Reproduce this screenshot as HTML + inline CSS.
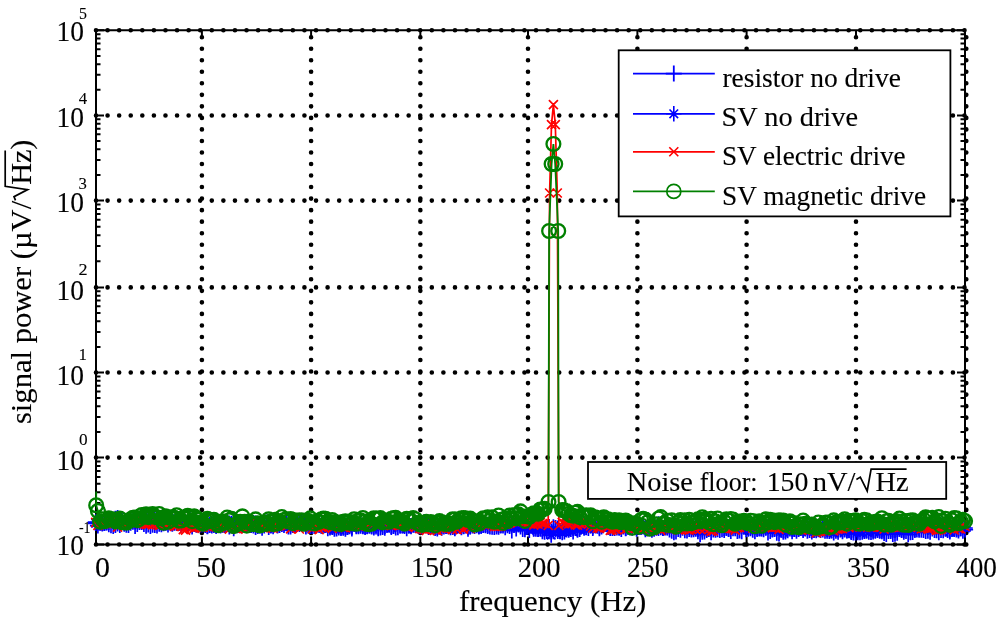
<!DOCTYPE html><html><head><meta charset="utf-8"><style>html,body{margin:0;padding:0;background:#fff;overflow:hidden;}svg{display:block;will-change:transform;}text{font-family:"Liberation Serif",serif;fill:#000;stroke:#000;stroke-width:0.12px;white-space:pre;}text.e{stroke-width:0.1px;}</style></head><body>
<svg width="1000" height="622" viewBox="0 0 1000 622">
<rect width="1000" height="622" fill="#fff"/>
<path d="M96.00 30.30H965.50 M96.00 115.44H965.50 M96.00 200.60H965.50 M96.00 287.40H965.50 M96.00 372.50H965.50 M96.00 457.60H965.50 M96.00 544.50H965.50" stroke="#000" stroke-width="4.6" stroke-linecap="round" stroke-dasharray="0 11.58" fill="none"/>
<path d="M201.90 544.50V32.30 M311.10 544.50V32.30 M420.35 544.50V32.30 M528.00 544.50V32.30 M637.40 544.50V32.30 M746.60 544.50V32.30 M856.00 544.50V32.30 M966.30 544.50V32.30" stroke="#000" stroke-width="4.6" stroke-linecap="round" stroke-dasharray="0 11.53" fill="none"/>
<path d="M201.90 544.50V536.50M201.90 30.30V37.80 M311.10 544.50V536.50M311.10 30.30V37.80 M420.35 544.50V536.50M420.35 30.30V37.80 M528.00 544.50V536.50M528.00 30.30V37.80 M637.40 544.50V536.50M637.40 30.30V37.80 M746.60 544.50V536.50M746.60 30.30V37.80 M856.00 544.50V536.50M856.00 30.30V37.80 M96.00 30.30H104.00M965.00 30.30H957.00 M96.00 89.81H100.50M965.00 89.81H960.50 M96.00 74.82H100.50M965.00 74.82H960.50 M96.00 64.18H100.50M965.00 64.18H960.50 M96.00 55.93H100.50M965.00 55.93H960.50 M96.00 49.19H100.50M965.00 49.19H960.50 M96.00 43.49H100.50M965.00 43.49H960.50 M96.00 38.55H100.50M965.00 38.55H960.50 M96.00 34.20H100.50M965.00 34.20H960.50 M96.00 115.44H104.00M965.00 115.44H957.00 M96.00 174.96H100.50M965.00 174.96H960.50 M96.00 159.97H100.50M965.00 159.97H960.50 M96.00 149.33H100.50M965.00 149.33H960.50 M96.00 141.08H100.50M965.00 141.08H960.50 M96.00 134.33H100.50M965.00 134.33H960.50 M96.00 128.63H100.50M965.00 128.63H960.50 M96.00 123.69H100.50M965.00 123.69H960.50 M96.00 119.34H100.50M965.00 119.34H960.50 M96.00 200.60H104.00M965.00 200.60H957.00 M96.00 261.27H100.50M965.00 261.27H960.50 M96.00 245.99H100.50M965.00 245.99H960.50 M96.00 235.14H100.50M965.00 235.14H960.50 M96.00 226.73H100.50M965.00 226.73H960.50 M96.00 219.86H100.50M965.00 219.86H960.50 M96.00 214.05H100.50M965.00 214.05H960.50 M96.00 209.01H100.50M965.00 209.01H960.50 M96.00 204.57H100.50M965.00 204.57H960.50 M96.00 287.40H104.00M965.00 287.40H957.00 M96.00 346.88H100.50M965.00 346.88H960.50 M96.00 331.90H100.50M965.00 331.90H960.50 M96.00 321.26H100.50M965.00 321.26H960.50 M96.00 313.02H100.50M965.00 313.02H960.50 M96.00 306.28H100.50M965.00 306.28H960.50 M96.00 300.58H100.50M965.00 300.58H960.50 M96.00 295.65H100.50M965.00 295.65H960.50 M96.00 291.29H100.50M965.00 291.29H960.50 M96.00 372.50H104.00M965.00 372.50H957.00 M96.00 431.98H100.50M965.00 431.98H960.50 M96.00 417.00H100.50M965.00 417.00H960.50 M96.00 406.36H100.50M965.00 406.36H960.50 M96.00 398.12H100.50M965.00 398.12H960.50 M96.00 391.38H100.50M965.00 391.38H960.50 M96.00 385.68H100.50M965.00 385.68H960.50 M96.00 380.75H100.50M965.00 380.75H960.50 M96.00 376.39H100.50M965.00 376.39H960.50 M96.00 457.60H104.00M965.00 457.60H957.00 M96.00 518.34H100.50M965.00 518.34H960.50 M96.00 503.04H100.50M965.00 503.04H960.50 M96.00 492.18H100.50M965.00 492.18H960.50 M96.00 483.76H100.50M965.00 483.76H960.50 M96.00 476.88H100.50M965.00 476.88H960.50 M96.00 471.06H100.50M965.00 471.06H960.50 M96.00 466.02H100.50M965.00 466.02H960.50 M96.00 461.58H100.50M965.00 461.58H960.50 M96.00 544.50H104.00M965.00 544.50H957.00" stroke="#000" stroke-width="2.0" fill="none"/>
<path d="M96.00 30.30H965.00V544.50H96.00Z" stroke="#000" stroke-width="2.0" fill="none"/>
<polyline points="95.7,522.2 97.9,525.6 100.1,522.7 102.3,523.5 104.4,523.1 106.6,522.6 108.8,524.2 111.0,525.2 113.2,526.1 115.4,525.1 117.6,523.4 119.8,525.0 122.0,522.1 124.2,523.7 126.3,524.7 128.5,525.0 130.7,522.7 132.9,521.8 135.1,526.1 137.3,523.9 139.5,521.9 141.7,522.1 143.9,523.9 146.1,525.8 148.2,524.5 150.4,525.9 152.6,524.8 154.8,524.9 157.0,525.5 159.2,523.7 161.4,524.2 163.6,523.3 165.8,522.7 168.0,524.4 170.1,522.6 172.3,523.5 174.5,522.4 176.7,523.1 178.9,522.6 181.1,524.8 183.3,523.8 185.5,523.5 187.7,525.7 189.9,519.8 192.1,521.1 194.2,519.1 196.4,522.6 198.6,523.9 200.8,524.6 203.0,524.2 205.2,522.6 207.4,526.1 209.6,524.8 211.8,523.9 213.9,522.6 216.1,524.6 218.3,523.8 220.5,523.8 222.7,524.8 224.9,525.1 227.1,523.7 229.3,526.4 231.5,523.8 233.7,523.1 235.8,525.0 238.0,525.0 240.2,524.9 242.4,524.2 244.6,524.6 246.8,523.8 249.0,522.0 251.2,524.9 253.4,523.0 255.6,523.6 257.8,524.9 259.9,524.2 262.1,527.8 264.3,522.6 266.5,522.5 268.7,523.6 270.9,525.6 273.1,523.7 275.3,521.7 277.5,525.0 279.6,522.7 281.8,523.4 284.0,525.1 286.2,523.3 288.4,523.3 290.6,524.6 292.8,524.0 295.0,524.6 297.2,523.0 299.4,523.9 301.5,522.8 303.7,521.9 305.9,526.4 308.1,525.6 310.3,526.1 312.5,523.6 314.7,524.5 316.9,524.5 319.1,522.9 321.3,525.4 323.4,524.3 325.6,524.9 327.8,523.3 330.0,526.6 332.2,527.1 334.4,526.8 336.6,525.0 338.8,525.3 341.0,527.9 343.2,526.4 345.4,526.9 347.5,526.8 349.7,525.1 351.9,528.4 354.1,524.1 356.3,526.3 358.5,526.2 360.7,524.0 362.9,526.3 365.1,526.9 367.2,526.3 369.4,524.9 371.6,526.4 373.8,527.5 376.0,526.4 378.2,528.3 380.4,527.4 382.6,527.0 384.8,527.8 387.0,525.0 389.1,524.6 391.3,525.9 393.5,526.1 395.7,527.5 397.9,527.3 400.1,525.8 402.3,525.6 404.5,524.9 406.7,524.6 408.9,524.4 411.0,526.3 413.2,524.8 415.4,524.6 417.6,525.4 419.8,524.6 422.0,524.9 424.2,522.2 426.4,525.3 428.6,525.0 430.8,525.7 432.9,526.1 435.1,523.0 437.3,528.4 439.5,526.4 441.7,526.0 443.9,523.2 446.1,526.0 448.3,526.2 450.5,525.2 452.7,525.8 454.8,527.4 457.0,525.5 459.2,524.3 461.4,527.2 463.6,526.3 465.8,525.5 468.0,528.8 470.2,526.5 472.4,525.6 474.6,526.0 476.8,525.2 478.9,525.9 481.1,526.0 483.3,524.9 485.5,525.3 487.7,526.1 489.9,526.4 492.1,526.7 494.3,527.1 496.5,526.4 498.6,526.7 500.8,525.5 503.0,525.4 505.2,527.3 507.4,523.4 509.6,526.0 511.8,530.5 514.0,524.5 516.2,528.4 518.4,524.3 520.5,526.4 522.7,529.0 524.9,529.2 527.1,526.4 529.3,525.7 531.5,525.0 533.7,528.3 535.9,526.5 538.1,528.9 540.3,528.6 542.4,531.3 544.6,531.8 546.8,528.8 549.0,527.0 551.2,531.4 553.4,527.2 555.6,528.0 557.8,528.4 560.0,531.0 562.2,527.7 564.4,527.8 566.5,527.7 568.7,526.0 570.9,526.3 573.1,527.9 575.3,526.0 577.5,528.4 579.7,526.6 581.9,524.5 584.1,526.5 586.2,527.2 588.4,525.0 590.6,525.4 592.8,528.0 595.0,525.3 597.2,525.0 599.4,526.5 601.6,525.0 603.8,523.0 606.0,523.8 608.1,526.9 610.3,527.9 612.5,528.1 614.7,527.9 616.9,525.6 619.1,527.8 621.3,528.9 623.5,526.5 625.7,528.3 627.9,526.8 630.0,527.3 632.2,527.7 634.4,525.2 636.6,528.8 638.8,526.4 641.0,527.0 643.2,526.6 645.4,528.0 647.6,528.3 649.8,527.9 651.9,529.8 654.1,528.8 656.3,527.7 658.5,524.2 660.7,527.2 662.9,528.0 665.1,527.4 667.3,527.4 669.5,529.6 671.7,530.8 673.9,532.3 676.0,531.6 678.2,529.0 680.4,529.8 682.6,527.8 684.8,530.3 687.0,530.4 689.2,529.0 691.4,529.5 693.6,529.3 695.8,528.7 697.9,531.3 700.1,534.3 702.3,531.7 704.5,531.4 706.7,530.1 708.9,529.0 711.1,532.3 713.3,529.4 715.5,529.8 717.6,529.2 719.8,530.0 722.0,529.3 724.2,530.1 726.4,527.7 728.6,528.8 730.8,531.1 733.0,528.3 735.2,528.2 737.4,531.1 739.5,530.4 741.7,531.2 743.9,526.7 746.1,529.2 748.3,527.7 750.5,527.2 752.7,529.7 754.9,531.3 757.1,527.8 759.3,527.7 761.4,528.4 763.6,529.2 765.8,527.7 768.0,532.4 770.2,531.0 772.4,529.4 774.6,528.9 776.8,532.8 779.0,533.4 781.2,529.7 783.3,530.2 785.5,531.5 787.7,528.4 789.9,528.6 792.1,531.3 794.3,529.0 796.5,528.8 798.7,527.5 800.9,528.0 803.1,530.1 805.2,528.4 807.4,527.3 809.6,528.1 811.8,531.5 814.0,530.0 816.2,528.6 818.4,529.3 820.6,529.9 822.8,529.6 825.0,526.8 827.1,529.3 829.3,529.1 831.5,530.6 833.7,527.9 835.9,530.8 838.1,529.2 840.3,527.3 842.5,531.3 844.7,529.6 846.9,530.6 849.0,530.2 851.2,531.9 853.4,532.4 855.6,532.6 857.8,532.2 860.0,529.0 862.2,528.3 864.4,531.0 866.6,530.0 868.8,531.8 871.0,531.9 873.1,529.7 875.3,529.9 877.5,529.9 879.7,530.3 881.9,531.3 884.1,532.9 886.3,534.1 888.5,531.1 890.7,531.1 892.8,534.1 895.0,533.8 897.2,532.7 899.4,528.8 901.6,529.9 903.8,531.7 906.0,530.9 908.2,534.3 910.4,532.2 912.6,532.0 914.8,529.8 916.9,529.4 919.1,529.7 921.3,529.7 923.5,530.1 925.7,531.0 927.9,530.8 930.1,531.8 932.3,528.6 934.5,530.1 936.6,530.3 938.8,532.2 941.0,530.0 943.2,530.3 945.4,528.7 947.6,530.1 949.8,530.4 952.0,529.0 954.2,529.0 956.4,529.5 958.5,530.5 960.7,528.3 962.9,530.8 965.1,529.6" stroke="#00f" stroke-width="1.7" fill="none"/>
<path d="M87.7 522.2h16M95.7 514.2v16M89.9 525.6h16M97.9 517.6v16M92.1 522.7h16M100.1 514.7v16M94.3 523.5h16M102.3 515.5v16M96.4 523.1h16M104.4 515.1v16M98.6 522.6h16M106.6 514.6v16M100.8 524.2h16M108.8 516.2v16M103.0 525.2h16M111.0 517.2v16M105.2 526.1h16M113.2 518.1v16M107.4 525.1h16M115.4 517.1v16M109.6 523.4h16M117.6 515.4v16M111.8 525.0h16M119.8 517.0v16M114.0 522.1h16M122.0 514.1v16M116.2 523.7h16M124.2 515.7v16M118.3 524.7h16M126.3 516.7v16M120.5 525.0h16M128.5 517.0v16M122.7 522.7h16M130.7 514.7v16M124.9 521.8h16M132.9 513.8v16M127.1 526.1h16M135.1 518.1v16M129.3 523.9h16M137.3 515.9v16M131.5 521.9h16M139.5 513.9v16M133.7 522.1h16M141.7 514.1v16M135.9 523.9h16M143.9 515.9v16M138.1 525.8h16M146.1 517.8v16M140.2 524.5h16M148.2 516.5v16M142.4 525.9h16M150.4 517.9v16M144.6 524.8h16M152.6 516.8v16M146.8 524.9h16M154.8 516.9v16M149.0 525.5h16M157.0 517.5v16M151.2 523.7h16M159.2 515.7v16M153.4 524.2h16M161.4 516.2v16M155.6 523.3h16M163.6 515.3v16M157.8 522.7h16M165.8 514.7v16M160.0 524.4h16M168.0 516.4v16M162.1 522.6h16M170.1 514.6v16M164.3 523.5h16M172.3 515.5v16M166.5 522.4h16M174.5 514.4v16M168.7 523.1h16M176.7 515.1v16M170.9 522.6h16M178.9 514.6v16M173.1 524.8h16M181.1 516.8v16M175.3 523.8h16M183.3 515.8v16M177.5 523.5h16M185.5 515.5v16M179.7 525.7h16M187.7 517.7v16M181.9 519.8h16M189.9 511.8v16M184.1 521.1h16M192.1 513.1v16M186.2 519.1h16M194.2 511.1v16M188.4 522.6h16M196.4 514.6v16M190.6 523.9h16M198.6 515.9v16M192.8 524.6h16M200.8 516.6v16M195.0 524.2h16M203.0 516.2v16M197.2 522.6h16M205.2 514.6v16M199.4 526.1h16M207.4 518.1v16M201.6 524.8h16M209.6 516.8v16M203.8 523.9h16M211.8 515.9v16M205.9 522.6h16M213.9 514.6v16M208.1 524.6h16M216.1 516.6v16M210.3 523.8h16M218.3 515.8v16M212.5 523.8h16M220.5 515.8v16M214.7 524.8h16M222.7 516.8v16M216.9 525.1h16M224.9 517.1v16M219.1 523.7h16M227.1 515.7v16M221.3 526.4h16M229.3 518.4v16M223.5 523.8h16M231.5 515.8v16M225.7 523.1h16M233.7 515.1v16M227.8 525.0h16M235.8 517.0v16M230.0 525.0h16M238.0 517.0v16M232.2 524.9h16M240.2 516.9v16M234.4 524.2h16M242.4 516.2v16M236.6 524.6h16M244.6 516.6v16M238.8 523.8h16M246.8 515.8v16M241.0 522.0h16M249.0 514.0v16M243.2 524.9h16M251.2 516.9v16M245.4 523.0h16M253.4 515.0v16M247.6 523.6h16M255.6 515.6v16M249.8 524.9h16M257.8 516.9v16M251.9 524.2h16M259.9 516.2v16M254.1 527.8h16M262.1 519.8v16M256.3 522.6h16M264.3 514.6v16M258.5 522.5h16M266.5 514.5v16M260.7 523.6h16M268.7 515.6v16M262.9 525.6h16M270.9 517.6v16M265.1 523.7h16M273.1 515.7v16M267.3 521.7h16M275.3 513.7v16M269.5 525.0h16M277.5 517.0v16M271.6 522.7h16M279.6 514.7v16M273.8 523.4h16M281.8 515.4v16M276.0 525.1h16M284.0 517.1v16M278.2 523.3h16M286.2 515.3v16M280.4 523.3h16M288.4 515.3v16M282.6 524.6h16M290.6 516.6v16M284.8 524.0h16M292.8 516.0v16M287.0 524.6h16M295.0 516.6v16M289.2 523.0h16M297.2 515.0v16M291.4 523.9h16M299.4 515.9v16M293.5 522.8h16M301.5 514.8v16M295.7 521.9h16M303.7 513.9v16M297.9 526.4h16M305.9 518.4v16M300.1 525.6h16M308.1 517.6v16M302.3 526.1h16M310.3 518.1v16M304.5 523.6h16M312.5 515.6v16M306.7 524.5h16M314.7 516.5v16M308.9 524.5h16M316.9 516.5v16M311.1 522.9h16M319.1 514.9v16M313.3 525.4h16M321.3 517.4v16M315.4 524.3h16M323.4 516.3v16M317.6 524.9h16M325.6 516.9v16M319.8 523.3h16M327.8 515.3v16M322.0 526.6h16M330.0 518.6v16M324.2 527.1h16M332.2 519.1v16M326.4 526.8h16M334.4 518.8v16M328.6 525.0h16M336.6 517.0v16M330.8 525.3h16M338.8 517.3v16M333.0 527.9h16M341.0 519.9v16M335.2 526.4h16M343.2 518.4v16M337.4 526.9h16M345.4 518.9v16M339.5 526.8h16M347.5 518.8v16M341.7 525.1h16M349.7 517.1v16M343.9 528.4h16M351.9 520.4v16M346.1 524.1h16M354.1 516.1v16M348.3 526.3h16M356.3 518.3v16M350.5 526.2h16M358.5 518.2v16M352.7 524.0h16M360.7 516.0v16M354.9 526.3h16M362.9 518.3v16M357.1 526.9h16M365.1 518.9v16M359.2 526.3h16M367.2 518.3v16M361.4 524.9h16M369.4 516.9v16M363.6 526.4h16M371.6 518.4v16M365.8 527.5h16M373.8 519.5v16M368.0 526.4h16M376.0 518.4v16M370.2 528.3h16M378.2 520.3v16M372.4 527.4h16M380.4 519.4v16M374.6 527.0h16M382.6 519.0v16M376.8 527.8h16M384.8 519.8v16M379.0 525.0h16M387.0 517.0v16M381.1 524.6h16M389.1 516.6v16M383.3 525.9h16M391.3 517.9v16M385.5 526.1h16M393.5 518.1v16M387.7 527.5h16M395.7 519.5v16M389.9 527.3h16M397.9 519.3v16M392.1 525.8h16M400.1 517.8v16M394.3 525.6h16M402.3 517.6v16M396.5 524.9h16M404.5 516.9v16M398.7 524.6h16M406.7 516.6v16M400.9 524.4h16M408.9 516.4v16M403.0 526.3h16M411.0 518.3v16M405.2 524.8h16M413.2 516.8v16M407.4 524.6h16M415.4 516.6v16M409.6 525.4h16M417.6 517.4v16M411.8 524.6h16M419.8 516.6v16M414.0 524.9h16M422.0 516.9v16M416.2 522.2h16M424.2 514.2v16M418.4 525.3h16M426.4 517.3v16M420.6 525.0h16M428.6 517.0v16M422.8 525.7h16M430.8 517.7v16M424.9 526.1h16M432.9 518.1v16M427.1 523.0h16M435.1 515.0v16M429.3 528.4h16M437.3 520.4v16M431.5 526.4h16M439.5 518.4v16M433.7 526.0h16M441.7 518.0v16M435.9 523.2h16M443.9 515.2v16M438.1 526.0h16M446.1 518.0v16M440.3 526.2h16M448.3 518.2v16M442.5 525.2h16M450.5 517.2v16M444.7 525.8h16M452.7 517.8v16M446.8 527.4h16M454.8 519.4v16M449.0 525.5h16M457.0 517.5v16M451.2 524.3h16M459.2 516.3v16M453.4 527.2h16M461.4 519.2v16M455.6 526.3h16M463.6 518.3v16M457.8 525.5h16M465.8 517.5v16M460.0 528.8h16M468.0 520.8v16M462.2 526.5h16M470.2 518.5v16M464.4 525.6h16M472.4 517.6v16M466.6 526.0h16M474.6 518.0v16M468.8 525.2h16M476.8 517.2v16M470.9 525.9h16M478.9 517.9v16M473.1 526.0h16M481.1 518.0v16M475.3 524.9h16M483.3 516.9v16M477.5 525.3h16M485.5 517.3v16M479.7 526.1h16M487.7 518.1v16M481.9 526.4h16M489.9 518.4v16M484.1 526.7h16M492.1 518.7v16M486.3 527.1h16M494.3 519.1v16M488.5 526.4h16M496.5 518.4v16M490.6 526.7h16M498.6 518.7v16M492.8 525.5h16M500.8 517.5v16M495.0 525.4h16M503.0 517.4v16M497.2 527.3h16M505.2 519.3v16M499.4 523.4h16M507.4 515.4v16M501.6 526.0h16M509.6 518.0v16M503.8 530.5h16M511.8 522.5v16M506.0 524.5h16M514.0 516.5v16M508.2 528.4h16M516.2 520.4v16M510.4 524.3h16M518.4 516.3v16M512.5 526.4h16M520.5 518.4v16M514.7 529.0h16M522.7 521.0v16M516.9 529.2h16M524.9 521.2v16M519.1 526.4h16M527.1 518.4v16M521.3 525.7h16M529.3 517.7v16M523.5 525.0h16M531.5 517.0v16M525.7 528.3h16M533.7 520.3v16M527.9 526.5h16M535.9 518.5v16M530.1 528.9h16M538.1 520.9v16M532.3 528.6h16M540.3 520.6v16M534.4 531.3h16M542.4 523.3v16M536.6 531.8h16M544.6 523.8v16M538.8 528.8h16M546.8 520.8v16M541.0 527.0h16M549.0 519.0v16M543.2 531.4h16M551.2 523.4v16M545.4 527.2h16M553.4 519.2v16M547.6 528.0h16M555.6 520.0v16M549.8 528.4h16M557.8 520.4v16M552.0 531.0h16M560.0 523.0v16M554.2 527.7h16M562.2 519.7v16M556.4 527.8h16M564.4 519.8v16M558.5 527.7h16M566.5 519.7v16M560.7 526.0h16M568.7 518.0v16M562.9 526.3h16M570.9 518.3v16M565.1 527.9h16M573.1 519.9v16M567.3 526.0h16M575.3 518.0v16M569.5 528.4h16M577.5 520.4v16M571.7 526.6h16M579.7 518.6v16M573.9 524.5h16M581.9 516.5v16M576.1 526.5h16M584.1 518.5v16M578.2 527.2h16M586.2 519.2v16M580.4 525.0h16M588.4 517.0v16M582.6 525.4h16M590.6 517.4v16M584.8 528.0h16M592.8 520.0v16M587.0 525.3h16M595.0 517.3v16M589.2 525.0h16M597.2 517.0v16M591.4 526.5h16M599.4 518.5v16M593.6 525.0h16M601.6 517.0v16M595.8 523.0h16M603.8 515.0v16M598.0 523.8h16M606.0 515.8v16M600.1 526.9h16M608.1 518.9v16M602.3 527.9h16M610.3 519.9v16M604.5 528.1h16M612.5 520.1v16M606.7 527.9h16M614.7 519.9v16M608.9 525.6h16M616.9 517.6v16M611.1 527.8h16M619.1 519.8v16M613.3 528.9h16M621.3 520.9v16M615.5 526.5h16M623.5 518.5v16M617.7 528.3h16M625.7 520.3v16M619.9 526.8h16M627.9 518.8v16M622.0 527.3h16M630.0 519.3v16M624.2 527.7h16M632.2 519.7v16M626.4 525.2h16M634.4 517.2v16M628.6 528.8h16M636.6 520.8v16M630.8 526.4h16M638.8 518.4v16M633.0 527.0h16M641.0 519.0v16M635.2 526.6h16M643.2 518.6v16M637.4 528.0h16M645.4 520.0v16M639.6 528.3h16M647.6 520.3v16M641.8 527.9h16M649.8 519.9v16M643.9 529.8h16M651.9 521.8v16M646.1 528.8h16M654.1 520.8v16M648.3 527.7h16M656.3 519.7v16M650.5 524.2h16M658.5 516.2v16M652.7 527.2h16M660.7 519.2v16M654.9 528.0h16M662.9 520.0v16M657.1 527.4h16M665.1 519.4v16M659.3 527.4h16M667.3 519.4v16M661.5 529.6h16M669.5 521.6v16M663.7 530.8h16M671.7 522.8v16M665.9 532.3h16M673.9 524.3v16M668.0 531.6h16M676.0 523.6v16M670.2 529.0h16M678.2 521.0v16M672.4 529.8h16M680.4 521.8v16M674.6 527.8h16M682.6 519.8v16M676.8 530.3h16M684.8 522.3v16M679.0 530.4h16M687.0 522.4v16M681.2 529.0h16M689.2 521.0v16M683.4 529.5h16M691.4 521.5v16M685.6 529.3h16M693.6 521.3v16M687.8 528.7h16M695.8 520.7v16M689.9 531.3h16M697.9 523.3v16M692.1 534.3h16M700.1 526.3v16M694.3 531.7h16M702.3 523.7v16M696.5 531.4h16M704.5 523.4v16M698.7 530.1h16M706.7 522.1v16M700.9 529.0h16M708.9 521.0v16M703.1 532.3h16M711.1 524.3v16M705.3 529.4h16M713.3 521.4v16M707.5 529.8h16M715.5 521.8v16M709.6 529.2h16M717.6 521.2v16M711.8 530.0h16M719.8 522.0v16M714.0 529.3h16M722.0 521.3v16M716.2 530.1h16M724.2 522.1v16M718.4 527.7h16M726.4 519.7v16M720.6 528.8h16M728.6 520.8v16M722.8 531.1h16M730.8 523.1v16M725.0 528.3h16M733.0 520.3v16M727.2 528.2h16M735.2 520.2v16M729.4 531.1h16M737.4 523.1v16M731.5 530.4h16M739.5 522.4v16M733.7 531.2h16M741.7 523.2v16M735.9 526.7h16M743.9 518.7v16M738.1 529.2h16M746.1 521.2v16M740.3 527.7h16M748.3 519.7v16M742.5 527.2h16M750.5 519.2v16M744.7 529.7h16M752.7 521.7v16M746.9 531.3h16M754.9 523.3v16M749.1 527.8h16M757.1 519.8v16M751.3 527.7h16M759.3 519.7v16M753.4 528.4h16M761.4 520.4v16M755.6 529.2h16M763.6 521.2v16M757.8 527.7h16M765.8 519.7v16M760.0 532.4h16M768.0 524.4v16M762.2 531.0h16M770.2 523.0v16M764.4 529.4h16M772.4 521.4v16M766.6 528.9h16M774.6 520.9v16M768.8 532.8h16M776.8 524.8v16M771.0 533.4h16M779.0 525.4v16M773.2 529.7h16M781.2 521.7v16M775.3 530.2h16M783.3 522.2v16M777.5 531.5h16M785.5 523.5v16M779.7 528.4h16M787.7 520.4v16M781.9 528.6h16M789.9 520.6v16M784.1 531.3h16M792.1 523.3v16M786.3 529.0h16M794.3 521.0v16M788.5 528.8h16M796.5 520.8v16M790.7 527.5h16M798.7 519.5v16M792.9 528.0h16M800.9 520.0v16M795.1 530.1h16M803.1 522.1v16M797.2 528.4h16M805.2 520.4v16M799.4 527.3h16M807.4 519.3v16M801.6 528.1h16M809.6 520.1v16M803.8 531.5h16M811.8 523.5v16M806.0 530.0h16M814.0 522.0v16M808.2 528.6h16M816.2 520.6v16M810.4 529.3h16M818.4 521.3v16M812.6 529.9h16M820.6 521.9v16M814.8 529.6h16M822.8 521.6v16M817.0 526.8h16M825.0 518.8v16M819.1 529.3h16M827.1 521.3v16M821.3 529.1h16M829.3 521.1v16M823.5 530.6h16M831.5 522.6v16M825.7 527.9h16M833.7 519.9v16M827.9 530.8h16M835.9 522.8v16M830.1 529.2h16M838.1 521.2v16M832.3 527.3h16M840.3 519.3v16M834.5 531.3h16M842.5 523.3v16M836.7 529.6h16M844.7 521.6v16M838.9 530.6h16M846.9 522.6v16M841.0 530.2h16M849.0 522.2v16M843.2 531.9h16M851.2 523.9v16M845.4 532.4h16M853.4 524.4v16M847.6 532.6h16M855.6 524.6v16M849.8 532.2h16M857.8 524.2v16M852.0 529.0h16M860.0 521.0v16M854.2 528.3h16M862.2 520.3v16M856.4 531.0h16M864.4 523.0v16M858.6 530.0h16M866.6 522.0v16M860.8 531.8h16M868.8 523.8v16M863.0 531.9h16M871.0 523.9v16M865.1 529.7h16M873.1 521.7v16M867.3 529.9h16M875.3 521.9v16M869.5 529.9h16M877.5 521.9v16M871.7 530.3h16M879.7 522.3v16M873.9 531.3h16M881.9 523.3v16M876.1 532.9h16M884.1 524.9v16M878.3 534.1h16M886.3 526.1v16M880.5 531.1h16M888.5 523.1v16M882.7 531.1h16M890.7 523.1v16M884.8 534.1h16M892.8 526.1v16M887.0 533.8h16M895.0 525.8v16M889.2 532.7h16M897.2 524.7v16M891.4 528.8h16M899.4 520.8v16M893.6 529.9h16M901.6 521.9v16M895.8 531.7h16M903.8 523.7v16M898.0 530.9h16M906.0 522.9v16M900.2 534.3h16M908.2 526.3v16M902.4 532.2h16M910.4 524.2v16M904.6 532.0h16M912.6 524.0v16M906.8 529.8h16M914.8 521.8v16M908.9 529.4h16M916.9 521.4v16M911.1 529.7h16M919.1 521.7v16M913.3 529.7h16M921.3 521.7v16M915.5 530.1h16M923.5 522.1v16M917.7 531.0h16M925.7 523.0v16M919.9 530.8h16M927.9 522.8v16M922.1 531.8h16M930.1 523.8v16M924.3 528.6h16M932.3 520.6v16M926.5 530.1h16M934.5 522.1v16M928.6 530.3h16M936.6 522.3v16M930.8 532.2h16M938.8 524.2v16M933.0 530.0h16M941.0 522.0v16M935.2 530.3h16M943.2 522.3v16M937.4 528.7h16M945.4 520.7v16M939.6 530.1h16M947.6 522.1v16M941.8 530.4h16M949.8 522.4v16M944.0 529.0h16M952.0 521.0v16M946.2 529.0h16M954.2 521.0v16M948.4 529.5h16M956.4 521.5v16M950.5 530.5h16M958.5 522.5v16M952.7 528.3h16M960.7 520.3v16M954.9 530.8h16M962.9 522.8v16M957.1 529.6h16M965.1 521.6v16" stroke="#00f" stroke-width="1.7" fill="none"/>
<polyline points="95.7,523.3 97.9,522.7 100.1,522.7 102.3,523.2 104.4,523.1 106.6,522.6 108.8,522.3 111.0,520.2 113.2,521.2 115.4,518.4 117.6,517.6 119.8,520.0 122.0,520.4 124.2,522.8 126.3,522.0 128.5,522.3 130.7,520.3 132.9,520.9 135.1,521.9 137.3,521.2 139.5,520.8 141.7,520.3 143.9,518.8 146.1,518.5 148.2,517.7 150.4,520.1 152.6,519.7 154.8,519.1 157.0,520.4 159.2,519.5 161.4,521.7 163.6,523.4 165.8,521.9 168.0,520.2 170.1,518.9 172.3,523.7 174.5,522.7 176.7,520.5 178.9,523.4 181.1,520.4 183.3,521.7 185.5,522.5 187.7,522.8 189.9,521.9 192.1,526.9 194.2,524.2 196.4,525.0 198.6,524.8 200.8,522.7 203.0,523.8 205.2,525.2 207.4,526.6 209.6,525.2 211.8,525.9 213.9,525.2 216.1,526.3 218.3,522.3 220.5,525.7 222.7,524.7 224.9,524.5 227.1,521.3 229.3,523.1 231.5,525.7 233.7,528.5 235.8,524.8 238.0,524.1 240.2,525.5 242.4,525.4 244.6,524.1 246.8,524.4 249.0,524.1 251.2,525.4 253.4,525.8 255.6,527.2 257.8,526.3 259.9,525.7 262.1,524.9 264.3,525.8 266.5,523.3 268.7,527.2 270.9,525.3 273.1,526.6 275.3,523.7 277.5,525.7 279.6,525.3 281.8,524.4 284.0,523.5 286.2,523.1 288.4,526.7 290.6,526.7 292.8,525.2 295.0,525.0 297.2,523.8 299.4,522.0 301.5,521.8 303.7,523.5 305.9,524.6 308.1,523.5 310.3,526.1 312.5,526.4 314.7,526.1 316.9,523.5 319.1,525.2 321.3,526.0 323.4,524.5 325.6,523.0 327.8,528.6 330.0,527.9 332.2,526.5 334.4,529.0 336.6,528.9 338.8,527.9 341.0,527.4 343.2,528.0 345.4,529.1 347.5,527.3 349.7,526.5 351.9,527.4 354.1,522.7 356.3,525.8 358.5,525.6 360.7,526.1 362.9,525.9 365.1,526.5 367.2,526.3 369.4,526.1 371.6,525.8 373.8,526.5 376.0,525.3 378.2,527.1 380.4,523.7 382.6,525.7 384.8,526.4 387.0,524.1 389.1,524.8 391.3,527.4 393.5,525.8 395.7,524.4 397.9,521.2 400.1,525.1 402.3,525.6 404.5,526.3 406.7,528.5 408.9,526.0 411.0,525.7 413.2,524.5 415.4,525.2 417.6,525.3 419.8,526.5 422.0,526.5 424.2,524.7 426.4,524.7 428.6,527.4 430.8,524.7 432.9,526.6 435.1,528.2 437.3,527.3 439.5,526.5 441.7,528.0 443.9,526.9 446.1,526.2 448.3,525.8 450.5,527.6 452.7,527.4 454.8,528.5 457.0,526.1 459.2,525.7 461.4,525.4 463.6,526.3 465.8,525.1 468.0,527.0 470.2,526.6 472.4,524.5 474.6,521.3 476.8,522.1 478.9,526.7 481.1,525.4 483.3,525.4 485.5,524.4 487.7,525.3 489.9,522.2 492.1,521.3 494.3,521.6 496.5,524.0 498.6,525.4 500.8,525.4 503.0,524.6 505.2,522.9 507.4,525.6 509.6,524.7 511.8,525.0 514.0,525.2 516.2,524.9 518.4,524.6 520.5,524.9 522.7,524.1 524.9,527.0 527.1,526.8 529.3,530.4 531.5,526.1 533.7,529.1 535.9,529.0 538.1,529.4 540.3,528.9 542.4,529.2 544.6,528.5 546.8,531.2 549.0,531.5 551.2,535.1 553.4,531.5 555.6,529.8 557.8,531.2 560.0,531.5 562.2,532.5 564.4,531.7 566.5,529.8 568.7,530.0 570.9,529.4 573.1,531.8 575.3,528.3 577.5,530.1 579.7,529.2 581.9,526.4 584.1,528.0 586.2,527.3 588.4,528.3 590.6,525.5 592.8,526.9 595.0,525.4 597.2,526.0 599.4,528.6 601.6,526.9 603.8,523.6 606.0,524.1 608.1,524.6 610.3,527.7 612.5,525.8 614.7,524.3 616.9,527.7 619.1,527.1 621.3,527.1 623.5,525.4 625.7,528.2 627.9,526.6 630.0,523.7 632.2,524.2 634.4,524.8 636.6,525.9 638.8,527.4 641.0,525.7 643.2,525.5 645.4,529.5 647.6,527.4 649.8,526.1 651.9,526.7 654.1,525.1 656.3,527.3 658.5,528.4 660.7,526.5 662.9,528.4 665.1,527.0 667.3,527.5 669.5,526.2 671.7,525.8 673.9,524.7 676.0,526.9 678.2,526.6 680.4,526.6 682.6,525.3 684.8,525.0 687.0,525.6 689.2,527.3 691.4,527.4 693.6,526.0 695.8,527.1 697.9,529.3 700.1,527.5 702.3,529.8 704.5,528.1 706.7,529.0 708.9,526.6 711.1,528.6 713.3,525.7 715.5,527.1 717.6,526.7 719.8,524.3 722.0,524.7 724.2,528.3 726.4,528.1 728.6,529.2 730.8,527.9 733.0,523.3 735.2,526.9 737.4,526.4 739.5,526.5 741.7,526.6 743.9,526.2 746.1,525.9 748.3,529.0 750.5,528.5 752.7,527.0 754.9,527.1 757.1,529.2 759.3,528.8 761.4,528.6 763.6,526.7 765.8,527.5 768.0,526.7 770.2,525.6 772.4,529.4 774.6,528.5 776.8,528.2 779.0,527.4 781.2,529.7 783.3,532.1 785.5,530.4 787.7,530.6 789.9,527.6 792.1,529.0 794.3,529.3 796.5,531.1 798.7,529.4 800.9,527.8 803.1,528.7 805.2,528.4 807.4,531.0 809.6,530.4 811.8,529.9 814.0,529.7 816.2,530.6 818.4,529.1 820.6,528.3 822.8,526.9 825.0,531.0 827.1,531.0 829.3,531.3 831.5,530.6 833.7,532.8 835.9,529.6 838.1,532.1 840.3,529.8 842.5,529.9 844.7,528.9 846.9,530.6 849.0,530.4 851.2,531.3 853.4,530.1 855.6,528.7 857.8,531.1 860.0,532.5 862.2,532.0 864.4,530.7 866.6,531.1 868.8,528.1 871.0,529.4 873.1,531.7 875.3,531.1 877.5,529.0 879.7,531.0 881.9,529.9 884.1,530.8 886.3,527.9 888.5,528.6 890.7,529.8 892.8,530.0 895.0,530.3 897.2,529.5 899.4,529.0 901.6,529.8 903.8,530.4 906.0,527.2 908.2,528.1 910.4,528.4 912.6,528.8 914.8,530.0 916.9,526.8 919.1,528.7 921.3,525.8 923.5,526.5 925.7,526.9 927.9,527.2 930.1,526.7 932.3,526.7 934.5,526.9 936.6,527.0 938.8,524.8 941.0,525.0 943.2,526.4 945.4,528.0 947.6,529.1 949.8,531.9 952.0,528.7 954.2,526.9 956.4,528.0 958.5,529.0 960.7,528.6 962.9,526.9 965.1,528.0" stroke="#00f" stroke-width="1.7" fill="none"/>
<path d="M88.0 523.3h15.4M95.7 515.6v15.4M91.4 519.0l8.6 8.6M91.4 527.6l8.6 -8.6M90.2 522.7h15.4M97.9 515.0v15.4M93.6 518.4l8.6 8.6M93.6 527.0l8.6 -8.6M92.4 522.7h15.4M100.1 515.0v15.4M95.8 518.4l8.6 8.6M95.8 527.0l8.6 -8.6M94.6 523.2h15.4M102.3 515.5v15.4M98.0 518.9l8.6 8.6M98.0 527.5l8.6 -8.6M96.7 523.1h15.4M104.4 515.4v15.4M100.1 518.8l8.6 8.6M100.1 527.4l8.6 -8.6M98.9 522.6h15.4M106.6 514.9v15.4M102.3 518.3l8.6 8.6M102.3 526.9l8.6 -8.6M101.1 522.3h15.4M108.8 514.6v15.4M104.5 518.0l8.6 8.6M104.5 526.6l8.6 -8.6M103.3 520.2h15.4M111.0 512.5v15.4M106.7 515.9l8.6 8.6M106.7 524.5l8.6 -8.6M105.5 521.2h15.4M113.2 513.5v15.4M108.9 516.9l8.6 8.6M108.9 525.5l8.6 -8.6M107.7 518.4h15.4M115.4 510.7v15.4M111.1 514.1l8.6 8.6M111.1 522.7l8.6 -8.6M109.9 517.6h15.4M117.6 509.9v15.4M113.3 513.3l8.6 8.6M113.3 521.9l8.6 -8.6M112.1 520.0h15.4M119.8 512.3v15.4M115.5 515.7l8.6 8.6M115.5 524.3l8.6 -8.6M114.3 520.4h15.4M122.0 512.7v15.4M117.7 516.1l8.6 8.6M117.7 524.7l8.6 -8.6M116.5 522.8h15.4M124.2 515.1v15.4M119.9 518.5l8.6 8.6M119.9 527.1l8.6 -8.6M118.6 522.0h15.4M126.3 514.3v15.4M122.0 517.7l8.6 8.6M122.0 526.3l8.6 -8.6M120.8 522.3h15.4M128.5 514.6v15.4M124.2 518.0l8.6 8.6M124.2 526.6l8.6 -8.6M123.0 520.3h15.4M130.7 512.6v15.4M126.4 516.0l8.6 8.6M126.4 524.6l8.6 -8.6M125.2 520.9h15.4M132.9 513.2v15.4M128.6 516.6l8.6 8.6M128.6 525.2l8.6 -8.6M127.4 521.9h15.4M135.1 514.2v15.4M130.8 517.6l8.6 8.6M130.8 526.2l8.6 -8.6M129.6 521.2h15.4M137.3 513.5v15.4M133.0 516.9l8.6 8.6M133.0 525.5l8.6 -8.6M131.8 520.8h15.4M139.5 513.1v15.4M135.2 516.5l8.6 8.6M135.2 525.1l8.6 -8.6M134.0 520.3h15.4M141.7 512.6v15.4M137.4 516.0l8.6 8.6M137.4 524.6l8.6 -8.6M136.2 518.8h15.4M143.9 511.1v15.4M139.6 514.5l8.6 8.6M139.6 523.1l8.6 -8.6M138.4 518.5h15.4M146.1 510.8v15.4M141.8 514.2l8.6 8.6M141.8 522.8l8.6 -8.6M140.6 517.7h15.4M148.2 510.0v15.4M143.9 513.4l8.6 8.6M143.9 522.0l8.6 -8.6M142.7 520.1h15.4M150.4 512.4v15.4M146.1 515.8l8.6 8.6M146.1 524.4l8.6 -8.6M144.9 519.7h15.4M152.6 512.0v15.4M148.3 515.4l8.6 8.6M148.3 524.0l8.6 -8.6M147.1 519.1h15.4M154.8 511.4v15.4M150.5 514.8l8.6 8.6M150.5 523.4l8.6 -8.6M149.3 520.4h15.4M157.0 512.7v15.4M152.7 516.1l8.6 8.6M152.7 524.7l8.6 -8.6M151.5 519.5h15.4M159.2 511.8v15.4M154.9 515.2l8.6 8.6M154.9 523.8l8.6 -8.6M153.7 521.7h15.4M161.4 514.0v15.4M157.1 517.4l8.6 8.6M157.1 526.0l8.6 -8.6M155.9 523.4h15.4M163.6 515.7v15.4M159.3 519.1l8.6 8.6M159.3 527.7l8.6 -8.6M158.1 521.9h15.4M165.8 514.2v15.4M161.5 517.6l8.6 8.6M161.5 526.2l8.6 -8.6M160.3 520.2h15.4M168.0 512.5v15.4M163.7 515.9l8.6 8.6M163.7 524.5l8.6 -8.6M162.4 518.9h15.4M170.1 511.2v15.4M165.8 514.6l8.6 8.6M165.8 523.2l8.6 -8.6M164.6 523.7h15.4M172.3 516.0v15.4M168.0 519.4l8.6 8.6M168.0 528.0l8.6 -8.6M166.8 522.7h15.4M174.5 515.0v15.4M170.2 518.4l8.6 8.6M170.2 527.0l8.6 -8.6M169.0 520.5h15.4M176.7 512.8v15.4M172.4 516.2l8.6 8.6M172.4 524.8l8.6 -8.6M171.2 523.4h15.4M178.9 515.7v15.4M174.6 519.1l8.6 8.6M174.6 527.7l8.6 -8.6M173.4 520.4h15.4M181.1 512.7v15.4M176.8 516.1l8.6 8.6M176.8 524.7l8.6 -8.6M175.6 521.7h15.4M183.3 514.0v15.4M179.0 517.4l8.6 8.6M179.0 526.0l8.6 -8.6M177.8 522.5h15.4M185.5 514.8v15.4M181.2 518.2l8.6 8.6M181.2 526.8l8.6 -8.6M180.0 522.8h15.4M187.7 515.1v15.4M183.4 518.5l8.6 8.6M183.4 527.1l8.6 -8.6M182.2 521.9h15.4M189.9 514.2v15.4M185.6 517.6l8.6 8.6M185.6 526.2l8.6 -8.6M184.4 526.9h15.4M192.1 519.2v15.4M187.8 522.6l8.6 8.6M187.8 531.2l8.6 -8.6M186.5 524.2h15.4M194.2 516.5v15.4M189.9 519.9l8.6 8.6M189.9 528.5l8.6 -8.6M188.7 525.0h15.4M196.4 517.3v15.4M192.1 520.7l8.6 8.6M192.1 529.3l8.6 -8.6M190.9 524.8h15.4M198.6 517.1v15.4M194.3 520.5l8.6 8.6M194.3 529.1l8.6 -8.6M193.1 522.7h15.4M200.8 515.0v15.4M196.5 518.4l8.6 8.6M196.5 527.0l8.6 -8.6M195.3 523.8h15.4M203.0 516.1v15.4M198.7 519.5l8.6 8.6M198.7 528.1l8.6 -8.6M197.5 525.2h15.4M205.2 517.5v15.4M200.9 520.9l8.6 8.6M200.9 529.5l8.6 -8.6M199.7 526.6h15.4M207.4 518.9v15.4M203.1 522.3l8.6 8.6M203.1 530.9l8.6 -8.6M201.9 525.2h15.4M209.6 517.5v15.4M205.3 520.9l8.6 8.6M205.3 529.5l8.6 -8.6M204.1 525.9h15.4M211.8 518.2v15.4M207.5 521.6l8.6 8.6M207.5 530.2l8.6 -8.6M206.2 525.2h15.4M213.9 517.5v15.4M209.6 520.9l8.6 8.6M209.6 529.5l8.6 -8.6M208.4 526.3h15.4M216.1 518.6v15.4M211.8 522.0l8.6 8.6M211.8 530.6l8.6 -8.6M210.6 522.3h15.4M218.3 514.6v15.4M214.0 518.0l8.6 8.6M214.0 526.6l8.6 -8.6M212.8 525.7h15.4M220.5 518.0v15.4M216.2 521.4l8.6 8.6M216.2 530.0l8.6 -8.6M215.0 524.7h15.4M222.7 517.0v15.4M218.4 520.4l8.6 8.6M218.4 529.0l8.6 -8.6M217.2 524.5h15.4M224.9 516.8v15.4M220.6 520.2l8.6 8.6M220.6 528.8l8.6 -8.6M219.4 521.3h15.4M227.1 513.6v15.4M222.8 517.0l8.6 8.6M222.8 525.6l8.6 -8.6M221.6 523.1h15.4M229.3 515.4v15.4M225.0 518.8l8.6 8.6M225.0 527.4l8.6 -8.6M223.8 525.7h15.4M231.5 518.0v15.4M227.2 521.4l8.6 8.6M227.2 530.0l8.6 -8.6M226.0 528.5h15.4M233.7 520.8v15.4M229.4 524.2l8.6 8.6M229.4 532.8l8.6 -8.6M228.1 524.8h15.4M235.8 517.1v15.4M231.5 520.5l8.6 8.6M231.5 529.1l8.6 -8.6M230.3 524.1h15.4M238.0 516.4v15.4M233.7 519.8l8.6 8.6M233.7 528.4l8.6 -8.6M232.5 525.5h15.4M240.2 517.8v15.4M235.9 521.2l8.6 8.6M235.9 529.8l8.6 -8.6M234.7 525.4h15.4M242.4 517.7v15.4M238.1 521.1l8.6 8.6M238.1 529.7l8.6 -8.6M236.9 524.1h15.4M244.6 516.4v15.4M240.3 519.8l8.6 8.6M240.3 528.4l8.6 -8.6M239.1 524.4h15.4M246.8 516.7v15.4M242.5 520.1l8.6 8.6M242.5 528.7l8.6 -8.6M241.3 524.1h15.4M249.0 516.4v15.4M244.7 519.8l8.6 8.6M244.7 528.4l8.6 -8.6M243.5 525.4h15.4M251.2 517.7v15.4M246.9 521.1l8.6 8.6M246.9 529.7l8.6 -8.6M245.7 525.8h15.4M253.4 518.1v15.4M249.1 521.5l8.6 8.6M249.1 530.1l8.6 -8.6M247.9 527.2h15.4M255.6 519.5v15.4M251.3 522.9l8.6 8.6M251.3 531.5l8.6 -8.6M250.1 526.3h15.4M257.8 518.6v15.4M253.4 522.0l8.6 8.6M253.4 530.6l8.6 -8.6M252.2 525.7h15.4M259.9 518.0v15.4M255.6 521.4l8.6 8.6M255.6 530.0l8.6 -8.6M254.4 524.9h15.4M262.1 517.2v15.4M257.8 520.6l8.6 8.6M257.8 529.2l8.6 -8.6M256.6 525.8h15.4M264.3 518.1v15.4M260.0 521.5l8.6 8.6M260.0 530.1l8.6 -8.6M258.8 523.3h15.4M266.5 515.6v15.4M262.2 519.0l8.6 8.6M262.2 527.6l8.6 -8.6M261.0 527.2h15.4M268.7 519.5v15.4M264.4 522.9l8.6 8.6M264.4 531.5l8.6 -8.6M263.2 525.3h15.4M270.9 517.6v15.4M266.6 521.0l8.6 8.6M266.6 529.6l8.6 -8.6M265.4 526.6h15.4M273.1 518.9v15.4M268.8 522.3l8.6 8.6M268.8 530.9l8.6 -8.6M267.6 523.7h15.4M275.3 516.0v15.4M271.0 519.4l8.6 8.6M271.0 528.0l8.6 -8.6M269.8 525.7h15.4M277.5 518.0v15.4M273.2 521.4l8.6 8.6M273.2 530.0l8.6 -8.6M271.9 525.3h15.4M279.6 517.6v15.4M275.3 521.0l8.6 8.6M275.3 529.6l8.6 -8.6M274.1 524.4h15.4M281.8 516.7v15.4M277.5 520.1l8.6 8.6M277.5 528.7l8.6 -8.6M276.3 523.5h15.4M284.0 515.8v15.4M279.7 519.2l8.6 8.6M279.7 527.8l8.6 -8.6M278.5 523.1h15.4M286.2 515.4v15.4M281.9 518.8l8.6 8.6M281.9 527.4l8.6 -8.6M280.7 526.7h15.4M288.4 519.0v15.4M284.1 522.4l8.6 8.6M284.1 531.0l8.6 -8.6M282.9 526.7h15.4M290.6 519.0v15.4M286.3 522.4l8.6 8.6M286.3 531.0l8.6 -8.6M285.1 525.2h15.4M292.8 517.5v15.4M288.5 520.9l8.6 8.6M288.5 529.5l8.6 -8.6M287.3 525.0h15.4M295.0 517.3v15.4M290.7 520.7l8.6 8.6M290.7 529.3l8.6 -8.6M289.5 523.8h15.4M297.2 516.1v15.4M292.9 519.5l8.6 8.6M292.9 528.1l8.6 -8.6M291.7 522.0h15.4M299.4 514.3v15.4M295.1 517.7l8.6 8.6M295.1 526.3l8.6 -8.6M293.8 521.8h15.4M301.5 514.1v15.4M297.2 517.5l8.6 8.6M297.2 526.1l8.6 -8.6M296.0 523.5h15.4M303.7 515.8v15.4M299.4 519.2l8.6 8.6M299.4 527.8l8.6 -8.6M298.2 524.6h15.4M305.9 516.9v15.4M301.6 520.3l8.6 8.6M301.6 528.9l8.6 -8.6M300.4 523.5h15.4M308.1 515.8v15.4M303.8 519.2l8.6 8.6M303.8 527.8l8.6 -8.6M302.6 526.1h15.4M310.3 518.4v15.4M306.0 521.8l8.6 8.6M306.0 530.4l8.6 -8.6M304.8 526.4h15.4M312.5 518.7v15.4M308.2 522.1l8.6 8.6M308.2 530.7l8.6 -8.6M307.0 526.1h15.4M314.7 518.4v15.4M310.4 521.8l8.6 8.6M310.4 530.4l8.6 -8.6M309.2 523.5h15.4M316.9 515.8v15.4M312.6 519.2l8.6 8.6M312.6 527.8l8.6 -8.6M311.4 525.2h15.4M319.1 517.5v15.4M314.8 520.9l8.6 8.6M314.8 529.5l8.6 -8.6M313.6 526.0h15.4M321.3 518.3v15.4M317.0 521.7l8.6 8.6M317.0 530.3l8.6 -8.6M315.8 524.5h15.4M323.4 516.8v15.4M319.1 520.2l8.6 8.6M319.1 528.8l8.6 -8.6M317.9 523.0h15.4M325.6 515.3v15.4M321.3 518.7l8.6 8.6M321.3 527.3l8.6 -8.6M320.1 528.6h15.4M327.8 520.9v15.4M323.5 524.3l8.6 8.6M323.5 532.9l8.6 -8.6M322.3 527.9h15.4M330.0 520.2v15.4M325.7 523.6l8.6 8.6M325.7 532.2l8.6 -8.6M324.5 526.5h15.4M332.2 518.8v15.4M327.9 522.2l8.6 8.6M327.9 530.8l8.6 -8.6M326.7 529.0h15.4M334.4 521.3v15.4M330.1 524.7l8.6 8.6M330.1 533.3l8.6 -8.6M328.9 528.9h15.4M336.6 521.2v15.4M332.3 524.6l8.6 8.6M332.3 533.2l8.6 -8.6M331.1 527.9h15.4M338.8 520.2v15.4M334.5 523.6l8.6 8.6M334.5 532.2l8.6 -8.6M333.3 527.4h15.4M341.0 519.7v15.4M336.7 523.1l8.6 8.6M336.7 531.7l8.6 -8.6M335.5 528.0h15.4M343.2 520.3v15.4M338.9 523.7l8.6 8.6M338.9 532.3l8.6 -8.6M337.7 529.1h15.4M345.4 521.4v15.4M341.1 524.8l8.6 8.6M341.1 533.4l8.6 -8.6M339.8 527.3h15.4M347.5 519.6v15.4M343.2 523.0l8.6 8.6M343.2 531.6l8.6 -8.6M342.0 526.5h15.4M349.7 518.8v15.4M345.4 522.2l8.6 8.6M345.4 530.8l8.6 -8.6M344.2 527.4h15.4M351.9 519.7v15.4M347.6 523.1l8.6 8.6M347.6 531.7l8.6 -8.6M346.4 522.7h15.4M354.1 515.0v15.4M349.8 518.4l8.6 8.6M349.8 527.0l8.6 -8.6M348.6 525.8h15.4M356.3 518.1v15.4M352.0 521.5l8.6 8.6M352.0 530.1l8.6 -8.6M350.8 525.6h15.4M358.5 517.9v15.4M354.2 521.3l8.6 8.6M354.2 529.9l8.6 -8.6M353.0 526.1h15.4M360.7 518.4v15.4M356.4 521.8l8.6 8.6M356.4 530.4l8.6 -8.6M355.2 525.9h15.4M362.9 518.2v15.4M358.6 521.6l8.6 8.6M358.6 530.2l8.6 -8.6M357.4 526.5h15.4M365.1 518.8v15.4M360.8 522.2l8.6 8.6M360.8 530.8l8.6 -8.6M359.6 526.3h15.4M367.2 518.6v15.4M362.9 522.0l8.6 8.6M362.9 530.6l8.6 -8.6M361.7 526.1h15.4M369.4 518.4v15.4M365.1 521.8l8.6 8.6M365.1 530.4l8.6 -8.6M363.9 525.8h15.4M371.6 518.1v15.4M367.3 521.5l8.6 8.6M367.3 530.1l8.6 -8.6M366.1 526.5h15.4M373.8 518.8v15.4M369.5 522.2l8.6 8.6M369.5 530.8l8.6 -8.6M368.3 525.3h15.4M376.0 517.6v15.4M371.7 521.0l8.6 8.6M371.7 529.6l8.6 -8.6M370.5 527.1h15.4M378.2 519.4v15.4M373.9 522.8l8.6 8.6M373.9 531.4l8.6 -8.6M372.7 523.7h15.4M380.4 516.0v15.4M376.1 519.4l8.6 8.6M376.1 528.0l8.6 -8.6M374.9 525.7h15.4M382.6 518.0v15.4M378.3 521.4l8.6 8.6M378.3 530.0l8.6 -8.6M377.1 526.4h15.4M384.8 518.7v15.4M380.5 522.1l8.6 8.6M380.5 530.7l8.6 -8.6M379.3 524.1h15.4M387.0 516.4v15.4M382.7 519.8l8.6 8.6M382.7 528.4l8.6 -8.6M381.4 524.8h15.4M389.1 517.1v15.4M384.8 520.5l8.6 8.6M384.8 529.1l8.6 -8.6M383.6 527.4h15.4M391.3 519.7v15.4M387.0 523.1l8.6 8.6M387.0 531.7l8.6 -8.6M385.8 525.8h15.4M393.5 518.1v15.4M389.2 521.5l8.6 8.6M389.2 530.1l8.6 -8.6M388.0 524.4h15.4M395.7 516.7v15.4M391.4 520.1l8.6 8.6M391.4 528.7l8.6 -8.6M390.2 521.2h15.4M397.9 513.5v15.4M393.6 516.9l8.6 8.6M393.6 525.5l8.6 -8.6M392.4 525.1h15.4M400.1 517.4v15.4M395.8 520.8l8.6 8.6M395.8 529.4l8.6 -8.6M394.6 525.6h15.4M402.3 517.9v15.4M398.0 521.3l8.6 8.6M398.0 529.9l8.6 -8.6M396.8 526.3h15.4M404.5 518.6v15.4M400.2 522.0l8.6 8.6M400.2 530.6l8.6 -8.6M399.0 528.5h15.4M406.7 520.8v15.4M402.4 524.2l8.6 8.6M402.4 532.8l8.6 -8.6M401.2 526.0h15.4M408.9 518.3v15.4M404.6 521.7l8.6 8.6M404.6 530.3l8.6 -8.6M403.3 525.7h15.4M411.0 518.0v15.4M406.7 521.4l8.6 8.6M406.7 530.0l8.6 -8.6M405.5 524.5h15.4M413.2 516.8v15.4M408.9 520.2l8.6 8.6M408.9 528.8l8.6 -8.6M407.7 525.2h15.4M415.4 517.5v15.4M411.1 520.9l8.6 8.6M411.1 529.5l8.6 -8.6M409.9 525.3h15.4M417.6 517.6v15.4M413.3 521.0l8.6 8.6M413.3 529.6l8.6 -8.6M412.1 526.5h15.4M419.8 518.8v15.4M415.5 522.2l8.6 8.6M415.5 530.8l8.6 -8.6M414.3 526.5h15.4M422.0 518.8v15.4M417.7 522.2l8.6 8.6M417.7 530.8l8.6 -8.6M416.5 524.7h15.4M424.2 517.0v15.4M419.9 520.4l8.6 8.6M419.9 529.0l8.6 -8.6M418.7 524.7h15.4M426.4 517.0v15.4M422.1 520.4l8.6 8.6M422.1 529.0l8.6 -8.6M420.9 527.4h15.4M428.6 519.7v15.4M424.3 523.1l8.6 8.6M424.3 531.7l8.6 -8.6M423.1 524.7h15.4M430.8 517.0v15.4M426.5 520.4l8.6 8.6M426.5 529.0l8.6 -8.6M425.2 526.6h15.4M432.9 518.9v15.4M428.6 522.3l8.6 8.6M428.6 530.9l8.6 -8.6M427.4 528.2h15.4M435.1 520.5v15.4M430.8 523.9l8.6 8.6M430.8 532.5l8.6 -8.6M429.6 527.3h15.4M437.3 519.6v15.4M433.0 523.0l8.6 8.6M433.0 531.6l8.6 -8.6M431.8 526.5h15.4M439.5 518.8v15.4M435.2 522.2l8.6 8.6M435.2 530.8l8.6 -8.6M434.0 528.0h15.4M441.7 520.3v15.4M437.4 523.7l8.6 8.6M437.4 532.3l8.6 -8.6M436.2 526.9h15.4M443.9 519.2v15.4M439.6 522.6l8.6 8.6M439.6 531.2l8.6 -8.6M438.4 526.2h15.4M446.1 518.5v15.4M441.8 521.9l8.6 8.6M441.8 530.5l8.6 -8.6M440.6 525.8h15.4M448.3 518.1v15.4M444.0 521.5l8.6 8.6M444.0 530.1l8.6 -8.6M442.8 527.6h15.4M450.5 519.9v15.4M446.2 523.3l8.6 8.6M446.2 531.9l8.6 -8.6M445.0 527.4h15.4M452.7 519.7v15.4M448.4 523.1l8.6 8.6M448.4 531.7l8.6 -8.6M447.1 528.5h15.4M454.8 520.8v15.4M450.5 524.2l8.6 8.6M450.5 532.8l8.6 -8.6M449.3 526.1h15.4M457.0 518.4v15.4M452.7 521.8l8.6 8.6M452.7 530.4l8.6 -8.6M451.5 525.7h15.4M459.2 518.0v15.4M454.9 521.4l8.6 8.6M454.9 530.0l8.6 -8.6M453.7 525.4h15.4M461.4 517.7v15.4M457.1 521.1l8.6 8.6M457.1 529.7l8.6 -8.6M455.9 526.3h15.4M463.6 518.6v15.4M459.3 522.0l8.6 8.6M459.3 530.6l8.6 -8.6M458.1 525.1h15.4M465.8 517.4v15.4M461.5 520.8l8.6 8.6M461.5 529.4l8.6 -8.6M460.3 527.0h15.4M468.0 519.3v15.4M463.7 522.7l8.6 8.6M463.7 531.3l8.6 -8.6M462.5 526.6h15.4M470.2 518.9v15.4M465.9 522.3l8.6 8.6M465.9 530.9l8.6 -8.6M464.7 524.5h15.4M472.4 516.8v15.4M468.1 520.2l8.6 8.6M468.1 528.8l8.6 -8.6M466.9 521.3h15.4M474.6 513.6v15.4M470.3 517.0l8.6 8.6M470.3 525.6l8.6 -8.6M469.1 522.1h15.4M476.8 514.4v15.4M472.4 517.8l8.6 8.6M472.4 526.4l8.6 -8.6M471.2 526.7h15.4M478.9 519.0v15.4M474.6 522.4l8.6 8.6M474.6 531.0l8.6 -8.6M473.4 525.4h15.4M481.1 517.7v15.4M476.8 521.1l8.6 8.6M476.8 529.7l8.6 -8.6M475.6 525.4h15.4M483.3 517.7v15.4M479.0 521.1l8.6 8.6M479.0 529.7l8.6 -8.6M477.8 524.4h15.4M485.5 516.7v15.4M481.2 520.1l8.6 8.6M481.2 528.7l8.6 -8.6M480.0 525.3h15.4M487.7 517.6v15.4M483.4 521.0l8.6 8.6M483.4 529.6l8.6 -8.6M482.2 522.2h15.4M489.9 514.5v15.4M485.6 517.9l8.6 8.6M485.6 526.5l8.6 -8.6M484.4 521.3h15.4M492.1 513.6v15.4M487.8 517.0l8.6 8.6M487.8 525.6l8.6 -8.6M486.6 521.6h15.4M494.3 513.9v15.4M490.0 517.3l8.6 8.6M490.0 525.9l8.6 -8.6M488.8 524.0h15.4M496.5 516.3v15.4M492.2 519.7l8.6 8.6M492.2 528.3l8.6 -8.6M490.9 525.4h15.4M498.6 517.7v15.4M494.3 521.1l8.6 8.6M494.3 529.7l8.6 -8.6M493.1 525.4h15.4M500.8 517.7v15.4M496.5 521.1l8.6 8.6M496.5 529.7l8.6 -8.6M495.3 524.6h15.4M503.0 516.9v15.4M498.7 520.3l8.6 8.6M498.7 528.9l8.6 -8.6M497.5 522.9h15.4M505.2 515.2v15.4M500.9 518.6l8.6 8.6M500.9 527.2l8.6 -8.6M499.7 525.6h15.4M507.4 517.9v15.4M503.1 521.3l8.6 8.6M503.1 529.9l8.6 -8.6M501.9 524.7h15.4M509.6 517.0v15.4M505.3 520.4l8.6 8.6M505.3 529.0l8.6 -8.6M504.1 525.0h15.4M511.8 517.3v15.4M507.5 520.7l8.6 8.6M507.5 529.3l8.6 -8.6M506.3 525.2h15.4M514.0 517.5v15.4M509.7 520.9l8.6 8.6M509.7 529.5l8.6 -8.6M508.5 524.9h15.4M516.2 517.2v15.4M511.9 520.6l8.6 8.6M511.9 529.2l8.6 -8.6M510.7 524.6h15.4M518.4 516.9v15.4M514.1 520.3l8.6 8.6M514.1 528.9l8.6 -8.6M512.8 524.9h15.4M520.5 517.2v15.4M516.2 520.6l8.6 8.6M516.2 529.2l8.6 -8.6M515.0 524.1h15.4M522.7 516.4v15.4M518.4 519.8l8.6 8.6M518.4 528.4l8.6 -8.6M517.2 527.0h15.4M524.9 519.3v15.4M520.6 522.7l8.6 8.6M520.6 531.3l8.6 -8.6M519.4 526.8h15.4M527.1 519.1v15.4M522.8 522.5l8.6 8.6M522.8 531.1l8.6 -8.6M521.6 530.4h15.4M529.3 522.7v15.4M525.0 526.1l8.6 8.6M525.0 534.7l8.6 -8.6M523.8 526.1h15.4M531.5 518.4v15.4M527.2 521.8l8.6 8.6M527.2 530.4l8.6 -8.6M526.0 529.1h15.4M533.7 521.4v15.4M529.4 524.8l8.6 8.6M529.4 533.4l8.6 -8.6M528.2 529.0h15.4M535.9 521.3v15.4M531.6 524.7l8.6 8.6M531.6 533.3l8.6 -8.6M530.4 529.4h15.4M538.1 521.7v15.4M533.8 525.1l8.6 8.6M533.8 533.7l8.6 -8.6M532.6 528.9h15.4M540.3 521.2v15.4M536.0 524.6l8.6 8.6M536.0 533.2l8.6 -8.6M534.7 529.2h15.4M542.4 521.5v15.4M538.1 524.9l8.6 8.6M538.1 533.5l8.6 -8.6M536.9 528.5h15.4M544.6 520.8v15.4M540.3 524.2l8.6 8.6M540.3 532.8l8.6 -8.6M539.1 531.2h15.4M546.8 523.5v15.4M542.5 526.9l8.6 8.6M542.5 535.5l8.6 -8.6M541.3 531.5h15.4M549.0 523.8v15.4M544.7 527.2l8.6 8.6M544.7 535.8l8.6 -8.6M543.5 535.1h15.4M551.2 527.4v15.4M546.9 530.8l8.6 8.6M546.9 539.4l8.6 -8.6M545.7 531.5h15.4M553.4 523.8v15.4M549.1 527.2l8.6 8.6M549.1 535.8l8.6 -8.6M547.9 529.8h15.4M555.6 522.1v15.4M551.3 525.5l8.6 8.6M551.3 534.1l8.6 -8.6M550.1 531.2h15.4M557.8 523.5v15.4M553.5 526.9l8.6 8.6M553.5 535.5l8.6 -8.6M552.3 531.5h15.4M560.0 523.8v15.4M555.7 527.2l8.6 8.6M555.7 535.8l8.6 -8.6M554.5 532.5h15.4M562.2 524.8v15.4M557.9 528.2l8.6 8.6M557.9 536.8l8.6 -8.6M556.6 531.7h15.4M564.4 524.0v15.4M560.1 527.4l8.6 8.6M560.1 536.0l8.6 -8.6M558.8 529.8h15.4M566.5 522.1v15.4M562.2 525.5l8.6 8.6M562.2 534.1l8.6 -8.6M561.0 530.0h15.4M568.7 522.3v15.4M564.4 525.7l8.6 8.6M564.4 534.3l8.6 -8.6M563.2 529.4h15.4M570.9 521.7v15.4M566.6 525.1l8.6 8.6M566.6 533.7l8.6 -8.6M565.4 531.8h15.4M573.1 524.1v15.4M568.8 527.5l8.6 8.6M568.8 536.1l8.6 -8.6M567.6 528.3h15.4M575.3 520.6v15.4M571.0 524.0l8.6 8.6M571.0 532.6l8.6 -8.6M569.8 530.1h15.4M577.5 522.4v15.4M573.2 525.8l8.6 8.6M573.2 534.4l8.6 -8.6M572.0 529.2h15.4M579.7 521.5v15.4M575.4 524.9l8.6 8.6M575.4 533.5l8.6 -8.6M574.2 526.4h15.4M581.9 518.7v15.4M577.6 522.1l8.6 8.6M577.6 530.7l8.6 -8.6M576.4 528.0h15.4M584.1 520.3v15.4M579.8 523.7l8.6 8.6M579.8 532.3l8.6 -8.6M578.5 527.3h15.4M586.2 519.6v15.4M582.0 523.0l8.6 8.6M582.0 531.6l8.6 -8.6M580.7 528.3h15.4M588.4 520.6v15.4M584.1 524.0l8.6 8.6M584.1 532.6l8.6 -8.6M582.9 525.5h15.4M590.6 517.8v15.4M586.3 521.2l8.6 8.6M586.3 529.8l8.6 -8.6M585.1 526.9h15.4M592.8 519.2v15.4M588.5 522.6l8.6 8.6M588.5 531.2l8.6 -8.6M587.3 525.4h15.4M595.0 517.7v15.4M590.7 521.1l8.6 8.6M590.7 529.7l8.6 -8.6M589.5 526.0h15.4M597.2 518.3v15.4M592.9 521.7l8.6 8.6M592.9 530.3l8.6 -8.6M591.7 528.6h15.4M599.4 520.9v15.4M595.1 524.3l8.6 8.6M595.1 532.9l8.6 -8.6M593.9 526.9h15.4M601.6 519.2v15.4M597.3 522.6l8.6 8.6M597.3 531.2l8.6 -8.6M596.1 523.6h15.4M603.8 515.9v15.4M599.5 519.3l8.6 8.6M599.5 527.9l8.6 -8.6M598.3 524.1h15.4M606.0 516.4v15.4M601.7 519.8l8.6 8.6M601.7 528.4l8.6 -8.6M600.4 524.6h15.4M608.1 516.9v15.4M603.9 520.3l8.6 8.6M603.9 528.9l8.6 -8.6M602.6 527.7h15.4M610.3 520.0v15.4M606.0 523.4l8.6 8.6M606.0 532.0l8.6 -8.6M604.8 525.8h15.4M612.5 518.1v15.4M608.2 521.5l8.6 8.6M608.2 530.1l8.6 -8.6M607.0 524.3h15.4M614.7 516.6v15.4M610.4 520.0l8.6 8.6M610.4 528.6l8.6 -8.6M609.2 527.7h15.4M616.9 520.0v15.4M612.6 523.4l8.6 8.6M612.6 532.0l8.6 -8.6M611.4 527.1h15.4M619.1 519.4v15.4M614.8 522.8l8.6 8.6M614.8 531.4l8.6 -8.6M613.6 527.1h15.4M621.3 519.4v15.4M617.0 522.8l8.6 8.6M617.0 531.4l8.6 -8.6M615.8 525.4h15.4M623.5 517.7v15.4M619.2 521.1l8.6 8.6M619.2 529.7l8.6 -8.6M618.0 528.2h15.4M625.7 520.5v15.4M621.4 523.9l8.6 8.6M621.4 532.5l8.6 -8.6M620.2 526.6h15.4M627.9 518.9v15.4M623.6 522.3l8.6 8.6M623.6 530.9l8.6 -8.6M622.3 523.7h15.4M630.0 516.0v15.4M625.8 519.4l8.6 8.6M625.8 528.0l8.6 -8.6M624.5 524.2h15.4M632.2 516.5v15.4M627.9 519.9l8.6 8.6M627.9 528.5l8.6 -8.6M626.7 524.8h15.4M634.4 517.1v15.4M630.1 520.5l8.6 8.6M630.1 529.1l8.6 -8.6M628.9 525.9h15.4M636.6 518.2v15.4M632.3 521.6l8.6 8.6M632.3 530.2l8.6 -8.6M631.1 527.4h15.4M638.8 519.7v15.4M634.5 523.1l8.6 8.6M634.5 531.7l8.6 -8.6M633.3 525.7h15.4M641.0 518.0v15.4M636.7 521.4l8.6 8.6M636.7 530.0l8.6 -8.6M635.5 525.5h15.4M643.2 517.8v15.4M638.9 521.2l8.6 8.6M638.9 529.8l8.6 -8.6M637.7 529.5h15.4M645.4 521.8v15.4M641.1 525.2l8.6 8.6M641.1 533.8l8.6 -8.6M639.9 527.4h15.4M647.6 519.7v15.4M643.3 523.1l8.6 8.6M643.3 531.7l8.6 -8.6M642.1 526.1h15.4M649.8 518.4v15.4M645.5 521.8l8.6 8.6M645.5 530.4l8.6 -8.6M644.2 526.7h15.4M651.9 519.0v15.4M647.6 522.4l8.6 8.6M647.6 531.0l8.6 -8.6M646.4 525.1h15.4M654.1 517.4v15.4M649.8 520.8l8.6 8.6M649.8 529.4l8.6 -8.6M648.6 527.3h15.4M656.3 519.6v15.4M652.0 523.0l8.6 8.6M652.0 531.6l8.6 -8.6M650.8 528.4h15.4M658.5 520.7v15.4M654.2 524.1l8.6 8.6M654.2 532.7l8.6 -8.6M653.0 526.5h15.4M660.7 518.8v15.4M656.4 522.2l8.6 8.6M656.4 530.8l8.6 -8.6M655.2 528.4h15.4M662.9 520.7v15.4M658.6 524.1l8.6 8.6M658.6 532.7l8.6 -8.6M657.4 527.0h15.4M665.1 519.3v15.4M660.8 522.7l8.6 8.6M660.8 531.3l8.6 -8.6M659.6 527.5h15.4M667.3 519.8v15.4M663.0 523.2l8.6 8.6M663.0 531.8l8.6 -8.6M661.8 526.2h15.4M669.5 518.5v15.4M665.2 521.9l8.6 8.6M665.2 530.5l8.6 -8.6M664.0 525.8h15.4M671.7 518.1v15.4M667.4 521.5l8.6 8.6M667.4 530.1l8.6 -8.6M666.1 524.7h15.4M673.9 517.0v15.4M669.6 520.4l8.6 8.6M669.6 529.0l8.6 -8.6M668.3 526.9h15.4M676.0 519.2v15.4M671.7 522.6l8.6 8.6M671.7 531.2l8.6 -8.6M670.5 526.6h15.4M678.2 518.9v15.4M673.9 522.3l8.6 8.6M673.9 530.9l8.6 -8.6M672.7 526.6h15.4M680.4 518.9v15.4M676.1 522.3l8.6 8.6M676.1 530.9l8.6 -8.6M674.9 525.3h15.4M682.6 517.6v15.4M678.3 521.0l8.6 8.6M678.3 529.6l8.6 -8.6M677.1 525.0h15.4M684.8 517.3v15.4M680.5 520.7l8.6 8.6M680.5 529.3l8.6 -8.6M679.3 525.6h15.4M687.0 517.9v15.4M682.7 521.3l8.6 8.6M682.7 529.9l8.6 -8.6M681.5 527.3h15.4M689.2 519.6v15.4M684.9 523.0l8.6 8.6M684.9 531.6l8.6 -8.6M683.7 527.4h15.4M691.4 519.7v15.4M687.1 523.1l8.6 8.6M687.1 531.7l8.6 -8.6M685.9 526.0h15.4M693.6 518.3v15.4M689.3 521.7l8.6 8.6M689.3 530.3l8.6 -8.6M688.0 527.1h15.4M695.8 519.4v15.4M691.5 522.8l8.6 8.6M691.5 531.4l8.6 -8.6M690.2 529.3h15.4M697.9 521.6v15.4M693.6 525.0l8.6 8.6M693.6 533.6l8.6 -8.6M692.4 527.5h15.4M700.1 519.8v15.4M695.8 523.2l8.6 8.6M695.8 531.8l8.6 -8.6M694.6 529.8h15.4M702.3 522.1v15.4M698.0 525.5l8.6 8.6M698.0 534.1l8.6 -8.6M696.8 528.1h15.4M704.5 520.4v15.4M700.2 523.8l8.6 8.6M700.2 532.4l8.6 -8.6M699.0 529.0h15.4M706.7 521.3v15.4M702.4 524.7l8.6 8.6M702.4 533.3l8.6 -8.6M701.2 526.6h15.4M708.9 518.9v15.4M704.6 522.3l8.6 8.6M704.6 530.9l8.6 -8.6M703.4 528.6h15.4M711.1 520.9v15.4M706.8 524.3l8.6 8.6M706.8 532.9l8.6 -8.6M705.6 525.7h15.4M713.3 518.0v15.4M709.0 521.4l8.6 8.6M709.0 530.0l8.6 -8.6M707.8 527.1h15.4M715.5 519.4v15.4M711.2 522.8l8.6 8.6M711.2 531.4l8.6 -8.6M709.9 526.7h15.4M717.6 519.0v15.4M713.4 522.4l8.6 8.6M713.4 531.0l8.6 -8.6M712.1 524.3h15.4M719.8 516.6v15.4M715.5 520.0l8.6 8.6M715.5 528.6l8.6 -8.6M714.3 524.7h15.4M722.0 517.0v15.4M717.7 520.4l8.6 8.6M717.7 529.0l8.6 -8.6M716.5 528.3h15.4M724.2 520.6v15.4M719.9 524.0l8.6 8.6M719.9 532.6l8.6 -8.6M718.7 528.1h15.4M726.4 520.4v15.4M722.1 523.8l8.6 8.6M722.1 532.4l8.6 -8.6M720.9 529.2h15.4M728.6 521.5v15.4M724.3 524.9l8.6 8.6M724.3 533.5l8.6 -8.6M723.1 527.9h15.4M730.8 520.2v15.4M726.5 523.6l8.6 8.6M726.5 532.2l8.6 -8.6M725.3 523.3h15.4M733.0 515.6v15.4M728.7 519.0l8.6 8.6M728.7 527.6l8.6 -8.6M727.5 526.9h15.4M735.2 519.2v15.4M730.9 522.6l8.6 8.6M730.9 531.2l8.6 -8.6M729.7 526.4h15.4M737.4 518.7v15.4M733.1 522.1l8.6 8.6M733.1 530.7l8.6 -8.6M731.8 526.5h15.4M739.5 518.8v15.4M735.2 522.2l8.6 8.6M735.2 530.8l8.6 -8.6M734.0 526.6h15.4M741.7 518.9v15.4M737.4 522.3l8.6 8.6M737.4 530.9l8.6 -8.6M736.2 526.2h15.4M743.9 518.5v15.4M739.6 521.9l8.6 8.6M739.6 530.5l8.6 -8.6M738.4 525.9h15.4M746.1 518.2v15.4M741.8 521.6l8.6 8.6M741.8 530.2l8.6 -8.6M740.6 529.0h15.4M748.3 521.3v15.4M744.0 524.7l8.6 8.6M744.0 533.3l8.6 -8.6M742.8 528.5h15.4M750.5 520.8v15.4M746.2 524.2l8.6 8.6M746.2 532.8l8.6 -8.6M745.0 527.0h15.4M752.7 519.3v15.4M748.4 522.7l8.6 8.6M748.4 531.3l8.6 -8.6M747.2 527.1h15.4M754.9 519.4v15.4M750.6 522.8l8.6 8.6M750.6 531.4l8.6 -8.6M749.4 529.2h15.4M757.1 521.5v15.4M752.8 524.9l8.6 8.6M752.8 533.5l8.6 -8.6M751.6 528.8h15.4M759.3 521.1v15.4M755.0 524.5l8.6 8.6M755.0 533.1l8.6 -8.6M753.7 528.6h15.4M761.4 520.9v15.4M757.1 524.3l8.6 8.6M757.1 532.9l8.6 -8.6M755.9 526.7h15.4M763.6 519.0v15.4M759.3 522.4l8.6 8.6M759.3 531.0l8.6 -8.6M758.1 527.5h15.4M765.8 519.8v15.4M761.5 523.2l8.6 8.6M761.5 531.8l8.6 -8.6M760.3 526.7h15.4M768.0 519.0v15.4M763.7 522.4l8.6 8.6M763.7 531.0l8.6 -8.6M762.5 525.6h15.4M770.2 517.9v15.4M765.9 521.3l8.6 8.6M765.9 529.9l8.6 -8.6M764.7 529.4h15.4M772.4 521.7v15.4M768.1 525.1l8.6 8.6M768.1 533.7l8.6 -8.6M766.9 528.5h15.4M774.6 520.8v15.4M770.3 524.2l8.6 8.6M770.3 532.8l8.6 -8.6M769.1 528.2h15.4M776.8 520.5v15.4M772.5 523.9l8.6 8.6M772.5 532.5l8.6 -8.6M771.3 527.4h15.4M779.0 519.7v15.4M774.7 523.1l8.6 8.6M774.7 531.7l8.6 -8.6M773.5 529.7h15.4M781.2 522.0v15.4M776.9 525.4l8.6 8.6M776.9 534.0l8.6 -8.6M775.6 532.1h15.4M783.3 524.4v15.4M779.0 527.8l8.6 8.6M779.0 536.4l8.6 -8.6M777.8 530.4h15.4M785.5 522.7v15.4M781.2 526.1l8.6 8.6M781.2 534.7l8.6 -8.6M780.0 530.6h15.4M787.7 522.9v15.4M783.4 526.3l8.6 8.6M783.4 534.9l8.6 -8.6M782.2 527.6h15.4M789.9 519.9v15.4M785.6 523.3l8.6 8.6M785.6 531.9l8.6 -8.6M784.4 529.0h15.4M792.1 521.3v15.4M787.8 524.7l8.6 8.6M787.8 533.3l8.6 -8.6M786.6 529.3h15.4M794.3 521.6v15.4M790.0 525.0l8.6 8.6M790.0 533.6l8.6 -8.6M788.8 531.1h15.4M796.5 523.4v15.4M792.2 526.8l8.6 8.6M792.2 535.4l8.6 -8.6M791.0 529.4h15.4M798.7 521.7v15.4M794.4 525.1l8.6 8.6M794.4 533.7l8.6 -8.6M793.2 527.8h15.4M800.9 520.1v15.4M796.6 523.5l8.6 8.6M796.6 532.1l8.6 -8.6M795.4 528.7h15.4M803.1 521.0v15.4M798.8 524.4l8.6 8.6M798.8 533.0l8.6 -8.6M797.5 528.4h15.4M805.2 520.7v15.4M801.0 524.1l8.6 8.6M801.0 532.7l8.6 -8.6M799.7 531.0h15.4M807.4 523.3v15.4M803.1 526.7l8.6 8.6M803.1 535.3l8.6 -8.6M801.9 530.4h15.4M809.6 522.7v15.4M805.3 526.1l8.6 8.6M805.3 534.7l8.6 -8.6M804.1 529.9h15.4M811.8 522.2v15.4M807.5 525.6l8.6 8.6M807.5 534.2l8.6 -8.6M806.3 529.7h15.4M814.0 522.0v15.4M809.7 525.4l8.6 8.6M809.7 534.0l8.6 -8.6M808.5 530.6h15.4M816.2 522.9v15.4M811.9 526.3l8.6 8.6M811.9 534.9l8.6 -8.6M810.7 529.1h15.4M818.4 521.4v15.4M814.1 524.8l8.6 8.6M814.1 533.4l8.6 -8.6M812.9 528.3h15.4M820.6 520.6v15.4M816.3 524.0l8.6 8.6M816.3 532.6l8.6 -8.6M815.1 526.9h15.4M822.8 519.2v15.4M818.5 522.6l8.6 8.6M818.5 531.2l8.6 -8.6M817.3 531.0h15.4M825.0 523.3v15.4M820.7 526.7l8.6 8.6M820.7 535.3l8.6 -8.6M819.4 531.0h15.4M827.1 523.3v15.4M822.9 526.7l8.6 8.6M822.9 535.3l8.6 -8.6M821.6 531.3h15.4M829.3 523.6v15.4M825.0 527.0l8.6 8.6M825.0 535.6l8.6 -8.6M823.8 530.6h15.4M831.5 522.9v15.4M827.2 526.3l8.6 8.6M827.2 534.9l8.6 -8.6M826.0 532.8h15.4M833.7 525.1v15.4M829.4 528.5l8.6 8.6M829.4 537.1l8.6 -8.6M828.2 529.6h15.4M835.9 521.9v15.4M831.6 525.3l8.6 8.6M831.6 533.9l8.6 -8.6M830.4 532.1h15.4M838.1 524.4v15.4M833.8 527.8l8.6 8.6M833.8 536.4l8.6 -8.6M832.6 529.8h15.4M840.3 522.1v15.4M836.0 525.5l8.6 8.6M836.0 534.1l8.6 -8.6M834.8 529.9h15.4M842.5 522.2v15.4M838.2 525.6l8.6 8.6M838.2 534.2l8.6 -8.6M837.0 528.9h15.4M844.7 521.2v15.4M840.4 524.6l8.6 8.6M840.4 533.2l8.6 -8.6M839.2 530.6h15.4M846.9 522.9v15.4M842.6 526.3l8.6 8.6M842.6 534.9l8.6 -8.6M841.3 530.4h15.4M849.0 522.7v15.4M844.8 526.1l8.6 8.6M844.8 534.7l8.6 -8.6M843.5 531.3h15.4M851.2 523.6v15.4M846.9 527.0l8.6 8.6M846.9 535.6l8.6 -8.6M845.7 530.1h15.4M853.4 522.4v15.4M849.1 525.8l8.6 8.6M849.1 534.4l8.6 -8.6M847.9 528.7h15.4M855.6 521.0v15.4M851.3 524.4l8.6 8.6M851.3 533.0l8.6 -8.6M850.1 531.1h15.4M857.8 523.4v15.4M853.5 526.8l8.6 8.6M853.5 535.4l8.6 -8.6M852.3 532.5h15.4M860.0 524.8v15.4M855.7 528.2l8.6 8.6M855.7 536.8l8.6 -8.6M854.5 532.0h15.4M862.2 524.3v15.4M857.9 527.7l8.6 8.6M857.9 536.3l8.6 -8.6M856.7 530.7h15.4M864.4 523.0v15.4M860.1 526.4l8.6 8.6M860.1 535.0l8.6 -8.6M858.9 531.1h15.4M866.6 523.4v15.4M862.3 526.8l8.6 8.6M862.3 535.4l8.6 -8.6M861.1 528.1h15.4M868.8 520.4v15.4M864.5 523.8l8.6 8.6M864.5 532.4l8.6 -8.6M863.2 529.4h15.4M871.0 521.7v15.4M866.7 525.1l8.6 8.6M866.7 533.7l8.6 -8.6M865.4 531.7h15.4M873.1 524.0v15.4M868.8 527.4l8.6 8.6M868.8 536.0l8.6 -8.6M867.6 531.1h15.4M875.3 523.4v15.4M871.0 526.8l8.6 8.6M871.0 535.4l8.6 -8.6M869.8 529.0h15.4M877.5 521.3v15.4M873.2 524.7l8.6 8.6M873.2 533.3l8.6 -8.6M872.0 531.0h15.4M879.7 523.3v15.4M875.4 526.7l8.6 8.6M875.4 535.3l8.6 -8.6M874.2 529.9h15.4M881.9 522.2v15.4M877.6 525.6l8.6 8.6M877.6 534.2l8.6 -8.6M876.4 530.8h15.4M884.1 523.1v15.4M879.8 526.5l8.6 8.6M879.8 535.1l8.6 -8.6M878.6 527.9h15.4M886.3 520.2v15.4M882.0 523.6l8.6 8.6M882.0 532.2l8.6 -8.6M880.8 528.6h15.4M888.5 520.9v15.4M884.2 524.3l8.6 8.6M884.2 532.9l8.6 -8.6M883.0 529.8h15.4M890.7 522.1v15.4M886.4 525.5l8.6 8.6M886.4 534.1l8.6 -8.6M885.1 530.0h15.4M892.8 522.3v15.4M888.5 525.7l8.6 8.6M888.5 534.3l8.6 -8.6M887.3 530.3h15.4M895.0 522.6v15.4M890.7 526.0l8.6 8.6M890.7 534.6l8.6 -8.6M889.5 529.5h15.4M897.2 521.8v15.4M892.9 525.2l8.6 8.6M892.9 533.8l8.6 -8.6M891.7 529.0h15.4M899.4 521.3v15.4M895.1 524.7l8.6 8.6M895.1 533.3l8.6 -8.6M893.9 529.8h15.4M901.6 522.1v15.4M897.3 525.5l8.6 8.6M897.3 534.1l8.6 -8.6M896.1 530.4h15.4M903.8 522.7v15.4M899.5 526.1l8.6 8.6M899.5 534.7l8.6 -8.6M898.3 527.2h15.4M906.0 519.5v15.4M901.7 522.9l8.6 8.6M901.7 531.5l8.6 -8.6M900.5 528.1h15.4M908.2 520.4v15.4M903.9 523.8l8.6 8.6M903.9 532.4l8.6 -8.6M902.7 528.4h15.4M910.4 520.7v15.4M906.1 524.1l8.6 8.6M906.1 532.7l8.6 -8.6M904.9 528.8h15.4M912.6 521.1v15.4M908.3 524.5l8.6 8.6M908.3 533.1l8.6 -8.6M907.0 530.0h15.4M914.8 522.3v15.4M910.5 525.7l8.6 8.6M910.5 534.3l8.6 -8.6M909.2 526.8h15.4M916.9 519.1v15.4M912.6 522.5l8.6 8.6M912.6 531.1l8.6 -8.6M911.4 528.7h15.4M919.1 521.0v15.4M914.8 524.4l8.6 8.6M914.8 533.0l8.6 -8.6M913.6 525.8h15.4M921.3 518.1v15.4M917.0 521.5l8.6 8.6M917.0 530.1l8.6 -8.6M915.8 526.5h15.4M923.5 518.8v15.4M919.2 522.2l8.6 8.6M919.2 530.8l8.6 -8.6M918.0 526.9h15.4M925.7 519.2v15.4M921.4 522.6l8.6 8.6M921.4 531.2l8.6 -8.6M920.2 527.2h15.4M927.9 519.5v15.4M923.6 522.9l8.6 8.6M923.6 531.5l8.6 -8.6M922.4 526.7h15.4M930.1 519.0v15.4M925.8 522.4l8.6 8.6M925.8 531.0l8.6 -8.6M924.6 526.7h15.4M932.3 519.0v15.4M928.0 522.4l8.6 8.6M928.0 531.0l8.6 -8.6M926.8 526.9h15.4M934.5 519.2v15.4M930.2 522.6l8.6 8.6M930.2 531.2l8.6 -8.6M928.9 527.0h15.4M936.6 519.3v15.4M932.4 522.7l8.6 8.6M932.4 531.3l8.6 -8.6M931.1 524.8h15.4M938.8 517.1v15.4M934.5 520.5l8.6 8.6M934.5 529.1l8.6 -8.6M933.3 525.0h15.4M941.0 517.3v15.4M936.7 520.7l8.6 8.6M936.7 529.3l8.6 -8.6M935.5 526.4h15.4M943.2 518.7v15.4M938.9 522.1l8.6 8.6M938.9 530.7l8.6 -8.6M937.7 528.0h15.4M945.4 520.3v15.4M941.1 523.7l8.6 8.6M941.1 532.3l8.6 -8.6M939.9 529.1h15.4M947.6 521.4v15.4M943.3 524.8l8.6 8.6M943.3 533.4l8.6 -8.6M942.1 531.9h15.4M949.8 524.2v15.4M945.5 527.6l8.6 8.6M945.5 536.2l8.6 -8.6M944.3 528.7h15.4M952.0 521.0v15.4M947.7 524.4l8.6 8.6M947.7 533.0l8.6 -8.6M946.5 526.9h15.4M954.2 519.2v15.4M949.9 522.6l8.6 8.6M949.9 531.2l8.6 -8.6M948.7 528.0h15.4M956.4 520.3v15.4M952.1 523.7l8.6 8.6M952.1 532.3l8.6 -8.6M950.8 529.0h15.4M958.5 521.3v15.4M954.2 524.7l8.6 8.6M954.2 533.3l8.6 -8.6M953.0 528.6h15.4M960.7 520.9v15.4M956.4 524.3l8.6 8.6M956.4 532.9l8.6 -8.6M955.2 526.9h15.4M962.9 519.2v15.4M958.6 522.6l8.6 8.6M958.6 531.2l8.6 -8.6M957.4 528.0h15.4M965.1 520.3v15.4M960.8 523.7l8.6 8.6M960.8 532.3l8.6 -8.6" stroke="#00f" stroke-width="1.7" fill="none"/>
<polyline points="95.7,522.3 97.9,525.3 100.1,522.8 102.3,524.0 104.4,523.5 106.6,523.7 108.8,522.7 111.0,522.1 113.2,523.3 115.4,522.2 117.6,527.1 119.8,524.2 122.0,522.9 124.2,522.6 126.3,521.7 128.5,519.3 130.7,521.8 132.9,523.4 135.1,521.1 137.3,522.7 139.5,521.4 141.7,522.8 143.9,523.8 146.1,524.4 148.2,524.5 150.4,523.0 152.6,524.9 154.8,523.6 157.0,524.6 159.2,525.5 161.4,524.4 163.6,522.7 165.8,525.2 168.0,523.5 170.1,523.5 172.3,523.3 174.5,526.4 176.7,525.9 178.9,522.8 181.1,526.4 183.3,529.6 185.5,530.2 187.7,526.9 189.9,526.9 192.1,527.6 194.2,528.3 196.4,527.1 198.6,525.0 200.8,527.1 203.0,527.4 205.2,524.4 207.4,524.8 209.6,525.8 211.8,525.6 213.9,526.3 216.1,526.8 218.3,526.6 220.5,525.5 222.7,523.4 224.9,525.7 227.1,527.7 229.3,529.2 231.5,526.8 233.7,526.2 235.8,528.3 238.0,529.1 240.2,527.7 242.4,528.0 244.6,526.0 246.8,527.5 249.0,525.9 251.2,526.4 253.4,526.7 255.6,526.2 257.8,523.6 259.9,524.7 262.1,526.8 264.3,526.8 266.5,526.2 268.7,527.2 270.9,527.8 273.1,528.1 275.3,525.7 277.5,526.1 279.6,525.7 281.8,524.7 284.0,523.4 286.2,525.1 288.4,524.5 290.6,528.8 292.8,526.8 295.0,526.1 297.2,525.7 299.4,529.0 301.5,525.9 303.7,526.2 305.9,525.5 308.1,526.4 310.3,526.9 312.5,528.8 314.7,525.7 316.9,526.9 319.1,529.7 321.3,527.4 323.4,527.2 325.6,526.0 327.8,523.0 330.0,525.8 332.2,528.4 334.4,526.6 336.6,523.8 338.8,526.0 341.0,526.2 343.2,527.5 345.4,527.6 347.5,525.6 349.7,525.9 351.9,522.5 354.1,525.7 356.3,525.1 358.5,526.1 360.7,526.2 362.9,524.2 365.1,523.7 367.2,522.4 369.4,520.1 371.6,522.3 373.8,523.4 376.0,522.0 378.2,524.3 380.4,524.1 382.6,524.7 384.8,523.2 387.0,521.3 389.1,524.7 391.3,525.7 393.5,525.0 395.7,524.5 397.9,524.8 400.1,525.2 402.3,525.0 404.5,522.8 406.7,526.5 408.9,524.4 411.0,525.6 413.2,526.2 415.4,527.4 417.6,525.0 419.8,528.7 422.0,529.0 424.2,529.4 426.4,530.4 428.6,527.6 430.8,523.4 432.9,527.3 435.1,530.0 437.3,530.6 439.5,528.2 441.7,528.1 443.9,528.6 446.1,525.5 448.3,526.2 450.5,526.3 452.7,529.6 454.8,527.0 457.0,529.5 459.2,527.7 461.4,524.5 463.6,529.2 465.8,525.7 468.0,526.9 470.2,528.7 472.4,525.7 474.6,523.7 476.8,526.3 478.9,525.5 481.1,523.2 483.3,522.6 485.5,523.3 487.7,525.4 489.9,524.0 492.1,524.9 494.3,526.5 496.5,526.3 498.6,526.4 500.8,526.1 503.0,521.7 505.2,524.5 507.4,524.0 509.6,523.1 511.8,521.5 514.0,520.3 516.2,520.7 518.4,522.4 520.5,521.4 522.7,521.7 524.9,522.1 527.1,524.0 529.3,523.4 531.5,523.4 533.7,525.1 535.9,523.7 538.1,524.2 540.3,522.7 542.4,523.6 544.6,523.5 548.2,525.5 549.6,193.0 551.5,124.6 553.4,104.6 555.3,124.6 557.3,193.0 558.9,525.5 562.2,522.5 564.4,523.7 566.5,523.1 568.7,524.0 570.9,523.4 573.1,522.1 575.3,524.8 577.5,525.1 579.7,523.2 581.9,521.8 584.1,523.3 586.2,523.0 588.4,524.1 590.6,526.0 592.8,528.0 595.0,526.0 597.2,528.0 599.4,528.4 601.6,526.2 603.8,523.8 606.0,526.9 608.1,527.5 610.3,530.3 612.5,529.8 614.7,528.8 616.9,529.8 619.1,526.1 621.3,526.9 623.5,526.4 625.7,529.4 627.9,528.6 630.0,522.9 632.2,527.9 634.4,526.0 636.6,528.1 638.8,526.8 641.0,527.6 643.2,528.4 645.4,528.0 647.6,526.2 649.8,529.2 651.9,528.6 654.1,527.9 656.3,528.7 658.5,527.1 660.7,530.3 662.9,528.7 665.1,528.5 667.3,528.4 669.5,526.5 671.7,525.6 673.9,527.5 676.0,528.3 678.2,530.0 680.4,529.3 682.6,526.8 684.8,528.5 687.0,529.5 689.2,530.1 691.4,529.3 693.6,526.8 695.8,529.6 697.9,527.6 700.1,529.0 702.3,526.2 704.5,528.8 706.7,527.3 708.9,529.6 711.1,531.3 713.3,530.8 715.5,527.1 717.6,526.3 719.8,526.1 722.0,528.2 724.2,528.3 726.4,528.0 728.6,528.1 730.8,528.4 733.0,528.6 735.2,530.1 737.4,527.9 739.5,527.5 741.7,524.3 743.9,524.1 746.1,524.9 748.3,524.4 750.5,526.3 752.7,528.1 754.9,526.3 757.1,525.7 759.3,525.5 761.4,526.4 763.6,525.6 765.8,526.9 768.0,527.1 770.2,527.2 772.4,527.9 774.6,527.1 776.8,527.1 779.0,529.5 781.2,527.7 783.3,528.4 785.5,527.6 787.7,526.7 789.9,526.5 792.1,526.0 794.3,527.2 796.5,526.8 798.7,527.0 800.9,529.6 803.1,528.5 805.2,530.1 807.4,529.4 809.6,530.1 811.8,528.3 814.0,528.9 816.2,532.9 818.4,531.5 820.6,531.4 822.8,530.3 825.0,531.0 827.1,528.2 829.3,527.8 831.5,529.7 833.7,530.8 835.9,529.2 838.1,529.1 840.3,528.6 842.5,528.7 844.7,527.1 846.9,526.1 849.0,527.7 851.2,525.5 853.4,525.8 855.6,526.3 857.8,525.6 860.0,527.2 862.2,526.6 864.4,526.8 866.6,525.4 868.8,525.3 871.0,527.1 873.1,527.3 875.3,526.1 877.5,527.0 879.7,527.0 881.9,526.9 884.1,529.1 886.3,526.7 888.5,527.3 890.7,527.5 892.8,526.6 895.0,525.0 897.2,527.3 899.4,527.4 901.6,527.2 903.8,527.1 906.0,527.2 908.2,525.9 910.4,527.4 912.6,524.9 914.8,526.8 916.9,525.3 919.1,526.7 921.3,528.8 923.5,528.1 925.7,527.6 927.9,528.9 930.1,528.2 932.3,527.8 934.5,527.6 936.6,530.4 938.8,529.9 941.0,529.4 943.2,526.7 945.4,528.5 947.6,526.1 949.8,528.0 952.0,526.1 954.2,530.0 956.4,525.7 958.5,528.7 960.7,529.0 962.9,525.2 965.1,526.3" stroke="#f00" stroke-width="1.7" fill="none"/>
<path d="M91.2 517.8l9.0 9.0M91.2 526.8l9.0 -9.0M93.4 520.8l9.0 9.0M93.4 529.8l9.0 -9.0M95.6 518.3l9.0 9.0M95.6 527.3l9.0 -9.0M97.8 519.5l9.0 9.0M97.8 528.5l9.0 -9.0M99.9 519.0l9.0 9.0M99.9 528.0l9.0 -9.0M102.1 519.2l9.0 9.0M102.1 528.2l9.0 -9.0M104.3 518.2l9.0 9.0M104.3 527.2l9.0 -9.0M106.5 517.6l9.0 9.0M106.5 526.6l9.0 -9.0M108.7 518.8l9.0 9.0M108.7 527.8l9.0 -9.0M110.9 517.7l9.0 9.0M110.9 526.7l9.0 -9.0M113.1 522.6l9.0 9.0M113.1 531.6l9.0 -9.0M115.3 519.7l9.0 9.0M115.3 528.7l9.0 -9.0M117.5 518.4l9.0 9.0M117.5 527.4l9.0 -9.0M119.7 518.1l9.0 9.0M119.7 527.1l9.0 -9.0M121.8 517.2l9.0 9.0M121.8 526.2l9.0 -9.0M124.0 514.8l9.0 9.0M124.0 523.8l9.0 -9.0M126.2 517.3l9.0 9.0M126.2 526.3l9.0 -9.0M128.4 518.9l9.0 9.0M128.4 527.9l9.0 -9.0M130.6 516.6l9.0 9.0M130.6 525.6l9.0 -9.0M132.8 518.2l9.0 9.0M132.8 527.2l9.0 -9.0M135.0 516.9l9.0 9.0M135.0 525.9l9.0 -9.0M137.2 518.3l9.0 9.0M137.2 527.3l9.0 -9.0M139.4 519.3l9.0 9.0M139.4 528.3l9.0 -9.0M141.6 519.9l9.0 9.0M141.6 528.9l9.0 -9.0M143.8 520.0l9.0 9.0M143.8 529.0l9.0 -9.0M145.9 518.5l9.0 9.0M145.9 527.5l9.0 -9.0M148.1 520.4l9.0 9.0M148.1 529.4l9.0 -9.0M150.3 519.1l9.0 9.0M150.3 528.1l9.0 -9.0M152.5 520.1l9.0 9.0M152.5 529.1l9.0 -9.0M154.7 521.0l9.0 9.0M154.7 530.0l9.0 -9.0M156.9 519.9l9.0 9.0M156.9 528.9l9.0 -9.0M159.1 518.2l9.0 9.0M159.1 527.2l9.0 -9.0M161.3 520.7l9.0 9.0M161.3 529.7l9.0 -9.0M163.5 519.0l9.0 9.0M163.5 528.0l9.0 -9.0M165.6 519.0l9.0 9.0M165.6 528.0l9.0 -9.0M167.8 518.8l9.0 9.0M167.8 527.8l9.0 -9.0M170.0 521.9l9.0 9.0M170.0 530.9l9.0 -9.0M172.2 521.4l9.0 9.0M172.2 530.4l9.0 -9.0M174.4 518.3l9.0 9.0M174.4 527.3l9.0 -9.0M176.6 521.9l9.0 9.0M176.6 530.9l9.0 -9.0M178.8 525.1l9.0 9.0M178.8 534.1l9.0 -9.0M181.0 525.7l9.0 9.0M181.0 534.7l9.0 -9.0M183.2 522.4l9.0 9.0M183.2 531.4l9.0 -9.0M185.4 522.4l9.0 9.0M185.4 531.4l9.0 -9.0M187.6 523.1l9.0 9.0M187.6 532.1l9.0 -9.0M189.7 523.8l9.0 9.0M189.7 532.8l9.0 -9.0M191.9 522.6l9.0 9.0M191.9 531.6l9.0 -9.0M194.1 520.5l9.0 9.0M194.1 529.5l9.0 -9.0M196.3 522.6l9.0 9.0M196.3 531.6l9.0 -9.0M198.5 522.9l9.0 9.0M198.5 531.9l9.0 -9.0M200.7 519.9l9.0 9.0M200.7 528.9l9.0 -9.0M202.9 520.3l9.0 9.0M202.9 529.3l9.0 -9.0M205.1 521.3l9.0 9.0M205.1 530.3l9.0 -9.0M207.3 521.1l9.0 9.0M207.3 530.1l9.0 -9.0M209.4 521.8l9.0 9.0M209.4 530.8l9.0 -9.0M211.6 522.3l9.0 9.0M211.6 531.3l9.0 -9.0M213.8 522.1l9.0 9.0M213.8 531.1l9.0 -9.0M216.0 521.0l9.0 9.0M216.0 530.0l9.0 -9.0M218.2 518.9l9.0 9.0M218.2 527.9l9.0 -9.0M220.4 521.2l9.0 9.0M220.4 530.2l9.0 -9.0M222.6 523.2l9.0 9.0M222.6 532.2l9.0 -9.0M224.8 524.7l9.0 9.0M224.8 533.7l9.0 -9.0M227.0 522.3l9.0 9.0M227.0 531.3l9.0 -9.0M229.2 521.7l9.0 9.0M229.2 530.7l9.0 -9.0M231.3 523.8l9.0 9.0M231.3 532.8l9.0 -9.0M233.5 524.6l9.0 9.0M233.5 533.6l9.0 -9.0M235.7 523.2l9.0 9.0M235.7 532.2l9.0 -9.0M237.9 523.5l9.0 9.0M237.9 532.5l9.0 -9.0M240.1 521.5l9.0 9.0M240.1 530.5l9.0 -9.0M242.3 523.0l9.0 9.0M242.3 532.0l9.0 -9.0M244.5 521.4l9.0 9.0M244.5 530.4l9.0 -9.0M246.7 521.9l9.0 9.0M246.7 530.9l9.0 -9.0M248.9 522.2l9.0 9.0M248.9 531.2l9.0 -9.0M251.1 521.7l9.0 9.0M251.1 530.7l9.0 -9.0M253.2 519.1l9.0 9.0M253.2 528.1l9.0 -9.0M255.4 520.2l9.0 9.0M255.4 529.2l9.0 -9.0M257.6 522.3l9.0 9.0M257.6 531.3l9.0 -9.0M259.8 522.3l9.0 9.0M259.8 531.3l9.0 -9.0M262.0 521.7l9.0 9.0M262.0 530.7l9.0 -9.0M264.2 522.7l9.0 9.0M264.2 531.7l9.0 -9.0M266.4 523.3l9.0 9.0M266.4 532.3l9.0 -9.0M268.6 523.6l9.0 9.0M268.6 532.6l9.0 -9.0M270.8 521.2l9.0 9.0M270.8 530.2l9.0 -9.0M273.0 521.6l9.0 9.0M273.0 530.6l9.0 -9.0M275.1 521.2l9.0 9.0M275.1 530.2l9.0 -9.0M277.3 520.2l9.0 9.0M277.3 529.2l9.0 -9.0M279.5 518.9l9.0 9.0M279.5 527.9l9.0 -9.0M281.7 520.6l9.0 9.0M281.7 529.6l9.0 -9.0M283.9 520.0l9.0 9.0M283.9 529.0l9.0 -9.0M286.1 524.3l9.0 9.0M286.1 533.3l9.0 -9.0M288.3 522.3l9.0 9.0M288.3 531.3l9.0 -9.0M290.5 521.6l9.0 9.0M290.5 530.6l9.0 -9.0M292.7 521.2l9.0 9.0M292.7 530.2l9.0 -9.0M294.9 524.5l9.0 9.0M294.9 533.5l9.0 -9.0M297.0 521.4l9.0 9.0M297.0 530.4l9.0 -9.0M299.2 521.7l9.0 9.0M299.2 530.7l9.0 -9.0M301.4 521.0l9.0 9.0M301.4 530.0l9.0 -9.0M303.6 521.9l9.0 9.0M303.6 530.9l9.0 -9.0M305.8 522.4l9.0 9.0M305.8 531.4l9.0 -9.0M308.0 524.3l9.0 9.0M308.0 533.3l9.0 -9.0M310.2 521.2l9.0 9.0M310.2 530.2l9.0 -9.0M312.4 522.4l9.0 9.0M312.4 531.4l9.0 -9.0M314.6 525.2l9.0 9.0M314.6 534.2l9.0 -9.0M316.8 522.9l9.0 9.0M316.8 531.9l9.0 -9.0M318.9 522.7l9.0 9.0M318.9 531.7l9.0 -9.0M321.1 521.5l9.0 9.0M321.1 530.5l9.0 -9.0M323.3 518.5l9.0 9.0M323.3 527.5l9.0 -9.0M325.5 521.3l9.0 9.0M325.5 530.3l9.0 -9.0M327.7 523.9l9.0 9.0M327.7 532.9l9.0 -9.0M329.9 522.1l9.0 9.0M329.9 531.1l9.0 -9.0M332.1 519.3l9.0 9.0M332.1 528.3l9.0 -9.0M334.3 521.5l9.0 9.0M334.3 530.5l9.0 -9.0M336.5 521.7l9.0 9.0M336.5 530.7l9.0 -9.0M338.7 523.0l9.0 9.0M338.7 532.0l9.0 -9.0M340.9 523.1l9.0 9.0M340.9 532.1l9.0 -9.0M343.0 521.1l9.0 9.0M343.0 530.1l9.0 -9.0M345.2 521.4l9.0 9.0M345.2 530.4l9.0 -9.0M347.4 518.0l9.0 9.0M347.4 527.0l9.0 -9.0M349.6 521.2l9.0 9.0M349.6 530.2l9.0 -9.0M351.8 520.6l9.0 9.0M351.8 529.6l9.0 -9.0M354.0 521.6l9.0 9.0M354.0 530.6l9.0 -9.0M356.2 521.7l9.0 9.0M356.2 530.7l9.0 -9.0M358.4 519.7l9.0 9.0M358.4 528.7l9.0 -9.0M360.6 519.2l9.0 9.0M360.6 528.2l9.0 -9.0M362.8 517.9l9.0 9.0M362.8 526.9l9.0 -9.0M364.9 515.6l9.0 9.0M364.9 524.6l9.0 -9.0M367.1 517.8l9.0 9.0M367.1 526.8l9.0 -9.0M369.3 518.9l9.0 9.0M369.3 527.9l9.0 -9.0M371.5 517.5l9.0 9.0M371.5 526.5l9.0 -9.0M373.7 519.8l9.0 9.0M373.7 528.8l9.0 -9.0M375.9 519.6l9.0 9.0M375.9 528.6l9.0 -9.0M378.1 520.2l9.0 9.0M378.1 529.2l9.0 -9.0M380.3 518.7l9.0 9.0M380.3 527.7l9.0 -9.0M382.5 516.8l9.0 9.0M382.5 525.8l9.0 -9.0M384.6 520.2l9.0 9.0M384.6 529.2l9.0 -9.0M386.8 521.2l9.0 9.0M386.8 530.2l9.0 -9.0M389.0 520.5l9.0 9.0M389.0 529.5l9.0 -9.0M391.2 520.0l9.0 9.0M391.2 529.0l9.0 -9.0M393.4 520.3l9.0 9.0M393.4 529.3l9.0 -9.0M395.6 520.7l9.0 9.0M395.6 529.7l9.0 -9.0M397.8 520.5l9.0 9.0M397.8 529.5l9.0 -9.0M400.0 518.3l9.0 9.0M400.0 527.3l9.0 -9.0M402.2 522.0l9.0 9.0M402.2 531.0l9.0 -9.0M404.4 519.9l9.0 9.0M404.4 528.9l9.0 -9.0M406.5 521.1l9.0 9.0M406.5 530.1l9.0 -9.0M408.7 521.7l9.0 9.0M408.7 530.7l9.0 -9.0M410.9 522.9l9.0 9.0M410.9 531.9l9.0 -9.0M413.1 520.5l9.0 9.0M413.1 529.5l9.0 -9.0M415.3 524.2l9.0 9.0M415.3 533.2l9.0 -9.0M417.5 524.5l9.0 9.0M417.5 533.5l9.0 -9.0M419.7 524.9l9.0 9.0M419.7 533.9l9.0 -9.0M421.9 525.9l9.0 9.0M421.9 534.9l9.0 -9.0M424.1 523.1l9.0 9.0M424.1 532.1l9.0 -9.0M426.3 518.9l9.0 9.0M426.3 527.9l9.0 -9.0M428.4 522.8l9.0 9.0M428.4 531.8l9.0 -9.0M430.6 525.5l9.0 9.0M430.6 534.5l9.0 -9.0M432.8 526.1l9.0 9.0M432.8 535.1l9.0 -9.0M435.0 523.7l9.0 9.0M435.0 532.7l9.0 -9.0M437.2 523.6l9.0 9.0M437.2 532.6l9.0 -9.0M439.4 524.1l9.0 9.0M439.4 533.1l9.0 -9.0M441.6 521.0l9.0 9.0M441.6 530.0l9.0 -9.0M443.8 521.7l9.0 9.0M443.8 530.7l9.0 -9.0M446.0 521.8l9.0 9.0M446.0 530.8l9.0 -9.0M448.2 525.1l9.0 9.0M448.2 534.1l9.0 -9.0M450.3 522.5l9.0 9.0M450.3 531.5l9.0 -9.0M452.5 525.0l9.0 9.0M452.5 534.0l9.0 -9.0M454.7 523.2l9.0 9.0M454.7 532.2l9.0 -9.0M456.9 520.0l9.0 9.0M456.9 529.0l9.0 -9.0M459.1 524.7l9.0 9.0M459.1 533.7l9.0 -9.0M461.3 521.2l9.0 9.0M461.3 530.2l9.0 -9.0M463.5 522.4l9.0 9.0M463.5 531.4l9.0 -9.0M465.7 524.2l9.0 9.0M465.7 533.2l9.0 -9.0M467.9 521.2l9.0 9.0M467.9 530.2l9.0 -9.0M470.1 519.2l9.0 9.0M470.1 528.2l9.0 -9.0M472.2 521.8l9.0 9.0M472.2 530.8l9.0 -9.0M474.4 521.0l9.0 9.0M474.4 530.0l9.0 -9.0M476.6 518.7l9.0 9.0M476.6 527.7l9.0 -9.0M478.8 518.1l9.0 9.0M478.8 527.1l9.0 -9.0M481.0 518.8l9.0 9.0M481.0 527.8l9.0 -9.0M483.2 520.9l9.0 9.0M483.2 529.9l9.0 -9.0M485.4 519.5l9.0 9.0M485.4 528.5l9.0 -9.0M487.6 520.4l9.0 9.0M487.6 529.4l9.0 -9.0M489.8 522.0l9.0 9.0M489.8 531.0l9.0 -9.0M492.0 521.8l9.0 9.0M492.0 530.8l9.0 -9.0M494.1 521.9l9.0 9.0M494.1 530.9l9.0 -9.0M496.3 521.6l9.0 9.0M496.3 530.6l9.0 -9.0M498.5 517.2l9.0 9.0M498.5 526.2l9.0 -9.0M500.7 520.0l9.0 9.0M500.7 529.0l9.0 -9.0M502.9 519.5l9.0 9.0M502.9 528.5l9.0 -9.0M505.1 518.6l9.0 9.0M505.1 527.6l9.0 -9.0M507.3 517.0l9.0 9.0M507.3 526.0l9.0 -9.0M509.5 515.8l9.0 9.0M509.5 524.8l9.0 -9.0M511.7 516.2l9.0 9.0M511.7 525.2l9.0 -9.0M513.9 517.9l9.0 9.0M513.9 526.9l9.0 -9.0M516.0 516.9l9.0 9.0M516.0 525.9l9.0 -9.0M518.2 517.2l9.0 9.0M518.2 526.2l9.0 -9.0M520.4 517.6l9.0 9.0M520.4 526.6l9.0 -9.0M522.6 519.5l9.0 9.0M522.6 528.5l9.0 -9.0M524.8 518.9l9.0 9.0M524.8 527.9l9.0 -9.0M527.0 518.9l9.0 9.0M527.0 527.9l9.0 -9.0M529.2 520.6l9.0 9.0M529.2 529.6l9.0 -9.0M531.4 519.2l9.0 9.0M531.4 528.2l9.0 -9.0M533.6 519.7l9.0 9.0M533.6 528.7l9.0 -9.0M535.8 518.2l9.0 9.0M535.8 527.2l9.0 -9.0M537.9 519.1l9.0 9.0M537.9 528.1l9.0 -9.0M540.1 519.0l9.0 9.0M540.1 528.0l9.0 -9.0M543.7 521.0l9.0 9.0M543.7 530.0l9.0 -9.0M545.1 188.5l9.0 9.0M545.1 197.5l9.0 -9.0M547.0 120.1l9.0 9.0M547.0 129.1l9.0 -9.0M548.9 100.1l9.0 9.0M548.9 109.1l9.0 -9.0M550.8 120.1l9.0 9.0M550.8 129.1l9.0 -9.0M552.8 188.5l9.0 9.0M552.8 197.5l9.0 -9.0M554.4 521.0l9.0 9.0M554.4 530.0l9.0 -9.0M557.7 518.0l9.0 9.0M557.7 527.0l9.0 -9.0M559.9 519.2l9.0 9.0M559.9 528.2l9.0 -9.0M562.0 518.6l9.0 9.0M562.0 527.6l9.0 -9.0M564.2 519.5l9.0 9.0M564.2 528.5l9.0 -9.0M566.4 518.9l9.0 9.0M566.4 527.9l9.0 -9.0M568.6 517.6l9.0 9.0M568.6 526.6l9.0 -9.0M570.8 520.3l9.0 9.0M570.8 529.3l9.0 -9.0M573.0 520.6l9.0 9.0M573.0 529.6l9.0 -9.0M575.2 518.7l9.0 9.0M575.2 527.7l9.0 -9.0M577.4 517.3l9.0 9.0M577.4 526.3l9.0 -9.0M579.6 518.8l9.0 9.0M579.6 527.8l9.0 -9.0M581.8 518.5l9.0 9.0M581.8 527.5l9.0 -9.0M583.9 519.6l9.0 9.0M583.9 528.6l9.0 -9.0M586.1 521.5l9.0 9.0M586.1 530.5l9.0 -9.0M588.3 523.5l9.0 9.0M588.3 532.5l9.0 -9.0M590.5 521.5l9.0 9.0M590.5 530.5l9.0 -9.0M592.7 523.5l9.0 9.0M592.7 532.5l9.0 -9.0M594.9 523.9l9.0 9.0M594.9 532.9l9.0 -9.0M597.1 521.7l9.0 9.0M597.1 530.7l9.0 -9.0M599.3 519.3l9.0 9.0M599.3 528.3l9.0 -9.0M601.5 522.4l9.0 9.0M601.5 531.4l9.0 -9.0M603.6 523.0l9.0 9.0M603.6 532.0l9.0 -9.0M605.8 525.8l9.0 9.0M605.8 534.8l9.0 -9.0M608.0 525.3l9.0 9.0M608.0 534.3l9.0 -9.0M610.2 524.3l9.0 9.0M610.2 533.3l9.0 -9.0M612.4 525.3l9.0 9.0M612.4 534.3l9.0 -9.0M614.6 521.6l9.0 9.0M614.6 530.6l9.0 -9.0M616.8 522.4l9.0 9.0M616.8 531.4l9.0 -9.0M619.0 521.9l9.0 9.0M619.0 530.9l9.0 -9.0M621.2 524.9l9.0 9.0M621.2 533.9l9.0 -9.0M623.4 524.1l9.0 9.0M623.4 533.1l9.0 -9.0M625.5 518.4l9.0 9.0M625.5 527.4l9.0 -9.0M627.7 523.4l9.0 9.0M627.7 532.4l9.0 -9.0M629.9 521.5l9.0 9.0M629.9 530.5l9.0 -9.0M632.1 523.6l9.0 9.0M632.1 532.6l9.0 -9.0M634.3 522.3l9.0 9.0M634.3 531.3l9.0 -9.0M636.5 523.1l9.0 9.0M636.5 532.1l9.0 -9.0M638.7 523.9l9.0 9.0M638.7 532.9l9.0 -9.0M640.9 523.5l9.0 9.0M640.9 532.5l9.0 -9.0M643.1 521.7l9.0 9.0M643.1 530.7l9.0 -9.0M645.3 524.7l9.0 9.0M645.3 533.7l9.0 -9.0M647.4 524.1l9.0 9.0M647.4 533.1l9.0 -9.0M649.6 523.4l9.0 9.0M649.6 532.4l9.0 -9.0M651.8 524.2l9.0 9.0M651.8 533.2l9.0 -9.0M654.0 522.6l9.0 9.0M654.0 531.6l9.0 -9.0M656.2 525.8l9.0 9.0M656.2 534.8l9.0 -9.0M658.4 524.2l9.0 9.0M658.4 533.2l9.0 -9.0M660.6 524.0l9.0 9.0M660.6 533.0l9.0 -9.0M662.8 523.9l9.0 9.0M662.8 532.9l9.0 -9.0M665.0 522.0l9.0 9.0M665.0 531.0l9.0 -9.0M667.2 521.1l9.0 9.0M667.2 530.1l9.0 -9.0M669.4 523.0l9.0 9.0M669.4 532.0l9.0 -9.0M671.5 523.8l9.0 9.0M671.5 532.8l9.0 -9.0M673.7 525.5l9.0 9.0M673.7 534.5l9.0 -9.0M675.9 524.8l9.0 9.0M675.9 533.8l9.0 -9.0M678.1 522.3l9.0 9.0M678.1 531.3l9.0 -9.0M680.3 524.0l9.0 9.0M680.3 533.0l9.0 -9.0M682.5 525.0l9.0 9.0M682.5 534.0l9.0 -9.0M684.7 525.6l9.0 9.0M684.7 534.6l9.0 -9.0M686.9 524.8l9.0 9.0M686.9 533.8l9.0 -9.0M689.1 522.3l9.0 9.0M689.1 531.3l9.0 -9.0M691.2 525.1l9.0 9.0M691.2 534.1l9.0 -9.0M693.4 523.1l9.0 9.0M693.4 532.1l9.0 -9.0M695.6 524.5l9.0 9.0M695.6 533.5l9.0 -9.0M697.8 521.7l9.0 9.0M697.8 530.7l9.0 -9.0M700.0 524.3l9.0 9.0M700.0 533.3l9.0 -9.0M702.2 522.8l9.0 9.0M702.2 531.8l9.0 -9.0M704.4 525.1l9.0 9.0M704.4 534.1l9.0 -9.0M706.6 526.8l9.0 9.0M706.6 535.8l9.0 -9.0M708.8 526.3l9.0 9.0M708.8 535.3l9.0 -9.0M711.0 522.6l9.0 9.0M711.0 531.6l9.0 -9.0M713.1 521.8l9.0 9.0M713.1 530.8l9.0 -9.0M715.3 521.6l9.0 9.0M715.3 530.6l9.0 -9.0M717.5 523.7l9.0 9.0M717.5 532.7l9.0 -9.0M719.7 523.8l9.0 9.0M719.7 532.8l9.0 -9.0M721.9 523.5l9.0 9.0M721.9 532.5l9.0 -9.0M724.1 523.6l9.0 9.0M724.1 532.6l9.0 -9.0M726.3 523.9l9.0 9.0M726.3 532.9l9.0 -9.0M728.5 524.1l9.0 9.0M728.5 533.1l9.0 -9.0M730.7 525.6l9.0 9.0M730.7 534.6l9.0 -9.0M732.9 523.4l9.0 9.0M732.9 532.4l9.0 -9.0M735.0 523.0l9.0 9.0M735.0 532.0l9.0 -9.0M737.2 519.8l9.0 9.0M737.2 528.8l9.0 -9.0M739.4 519.6l9.0 9.0M739.4 528.6l9.0 -9.0M741.6 520.4l9.0 9.0M741.6 529.4l9.0 -9.0M743.8 519.9l9.0 9.0M743.8 528.9l9.0 -9.0M746.0 521.8l9.0 9.0M746.0 530.8l9.0 -9.0M748.2 523.6l9.0 9.0M748.2 532.6l9.0 -9.0M750.4 521.8l9.0 9.0M750.4 530.8l9.0 -9.0M752.6 521.2l9.0 9.0M752.6 530.2l9.0 -9.0M754.8 521.0l9.0 9.0M754.8 530.0l9.0 -9.0M756.9 521.9l9.0 9.0M756.9 530.9l9.0 -9.0M759.1 521.1l9.0 9.0M759.1 530.1l9.0 -9.0M761.3 522.4l9.0 9.0M761.3 531.4l9.0 -9.0M763.5 522.6l9.0 9.0M763.5 531.6l9.0 -9.0M765.7 522.7l9.0 9.0M765.7 531.7l9.0 -9.0M767.9 523.4l9.0 9.0M767.9 532.4l9.0 -9.0M770.1 522.6l9.0 9.0M770.1 531.6l9.0 -9.0M772.3 522.6l9.0 9.0M772.3 531.6l9.0 -9.0M774.5 525.0l9.0 9.0M774.5 534.0l9.0 -9.0M776.7 523.2l9.0 9.0M776.7 532.2l9.0 -9.0M778.8 523.9l9.0 9.0M778.8 532.9l9.0 -9.0M781.0 523.1l9.0 9.0M781.0 532.1l9.0 -9.0M783.2 522.2l9.0 9.0M783.2 531.2l9.0 -9.0M785.4 522.0l9.0 9.0M785.4 531.0l9.0 -9.0M787.6 521.5l9.0 9.0M787.6 530.5l9.0 -9.0M789.8 522.7l9.0 9.0M789.8 531.7l9.0 -9.0M792.0 522.3l9.0 9.0M792.0 531.3l9.0 -9.0M794.2 522.5l9.0 9.0M794.2 531.5l9.0 -9.0M796.4 525.1l9.0 9.0M796.4 534.1l9.0 -9.0M798.6 524.0l9.0 9.0M798.6 533.0l9.0 -9.0M800.8 525.6l9.0 9.0M800.8 534.6l9.0 -9.0M802.9 524.9l9.0 9.0M802.9 533.9l9.0 -9.0M805.1 525.6l9.0 9.0M805.1 534.6l9.0 -9.0M807.3 523.8l9.0 9.0M807.3 532.8l9.0 -9.0M809.5 524.4l9.0 9.0M809.5 533.4l9.0 -9.0M811.7 528.4l9.0 9.0M811.7 537.4l9.0 -9.0M813.9 527.0l9.0 9.0M813.9 536.0l9.0 -9.0M816.1 526.9l9.0 9.0M816.1 535.9l9.0 -9.0M818.3 525.8l9.0 9.0M818.3 534.8l9.0 -9.0M820.5 526.5l9.0 9.0M820.5 535.5l9.0 -9.0M822.6 523.7l9.0 9.0M822.6 532.7l9.0 -9.0M824.8 523.3l9.0 9.0M824.8 532.3l9.0 -9.0M827.0 525.2l9.0 9.0M827.0 534.2l9.0 -9.0M829.2 526.3l9.0 9.0M829.2 535.3l9.0 -9.0M831.4 524.7l9.0 9.0M831.4 533.7l9.0 -9.0M833.6 524.6l9.0 9.0M833.6 533.6l9.0 -9.0M835.8 524.1l9.0 9.0M835.8 533.1l9.0 -9.0M838.0 524.2l9.0 9.0M838.0 533.2l9.0 -9.0M840.2 522.6l9.0 9.0M840.2 531.6l9.0 -9.0M842.4 521.6l9.0 9.0M842.4 530.6l9.0 -9.0M844.5 523.2l9.0 9.0M844.5 532.2l9.0 -9.0M846.7 521.0l9.0 9.0M846.7 530.0l9.0 -9.0M848.9 521.3l9.0 9.0M848.9 530.3l9.0 -9.0M851.1 521.8l9.0 9.0M851.1 530.8l9.0 -9.0M853.3 521.1l9.0 9.0M853.3 530.1l9.0 -9.0M855.5 522.7l9.0 9.0M855.5 531.7l9.0 -9.0M857.7 522.1l9.0 9.0M857.7 531.1l9.0 -9.0M859.9 522.3l9.0 9.0M859.9 531.3l9.0 -9.0M862.1 520.9l9.0 9.0M862.1 529.9l9.0 -9.0M864.3 520.8l9.0 9.0M864.3 529.8l9.0 -9.0M866.5 522.6l9.0 9.0M866.5 531.6l9.0 -9.0M868.6 522.8l9.0 9.0M868.6 531.8l9.0 -9.0M870.8 521.6l9.0 9.0M870.8 530.6l9.0 -9.0M873.0 522.5l9.0 9.0M873.0 531.5l9.0 -9.0M875.2 522.5l9.0 9.0M875.2 531.5l9.0 -9.0M877.4 522.4l9.0 9.0M877.4 531.4l9.0 -9.0M879.6 524.6l9.0 9.0M879.6 533.6l9.0 -9.0M881.8 522.2l9.0 9.0M881.8 531.2l9.0 -9.0M884.0 522.8l9.0 9.0M884.0 531.8l9.0 -9.0M886.2 523.0l9.0 9.0M886.2 532.0l9.0 -9.0M888.3 522.1l9.0 9.0M888.3 531.1l9.0 -9.0M890.5 520.5l9.0 9.0M890.5 529.5l9.0 -9.0M892.7 522.8l9.0 9.0M892.7 531.8l9.0 -9.0M894.9 522.9l9.0 9.0M894.9 531.9l9.0 -9.0M897.1 522.7l9.0 9.0M897.1 531.7l9.0 -9.0M899.3 522.6l9.0 9.0M899.3 531.6l9.0 -9.0M901.5 522.7l9.0 9.0M901.5 531.7l9.0 -9.0M903.7 521.4l9.0 9.0M903.7 530.4l9.0 -9.0M905.9 522.9l9.0 9.0M905.9 531.9l9.0 -9.0M908.1 520.4l9.0 9.0M908.1 529.4l9.0 -9.0M910.2 522.3l9.0 9.0M910.2 531.3l9.0 -9.0M912.4 520.8l9.0 9.0M912.4 529.8l9.0 -9.0M914.6 522.2l9.0 9.0M914.6 531.2l9.0 -9.0M916.8 524.3l9.0 9.0M916.8 533.3l9.0 -9.0M919.0 523.6l9.0 9.0M919.0 532.6l9.0 -9.0M921.2 523.1l9.0 9.0M921.2 532.1l9.0 -9.0M923.4 524.4l9.0 9.0M923.4 533.4l9.0 -9.0M925.6 523.7l9.0 9.0M925.6 532.7l9.0 -9.0M927.8 523.3l9.0 9.0M927.8 532.3l9.0 -9.0M930.0 523.1l9.0 9.0M930.0 532.1l9.0 -9.0M932.1 525.9l9.0 9.0M932.1 534.9l9.0 -9.0M934.3 525.4l9.0 9.0M934.3 534.4l9.0 -9.0M936.5 524.9l9.0 9.0M936.5 533.9l9.0 -9.0M938.7 522.2l9.0 9.0M938.7 531.2l9.0 -9.0M940.9 524.0l9.0 9.0M940.9 533.0l9.0 -9.0M943.1 521.6l9.0 9.0M943.1 530.6l9.0 -9.0M945.3 523.5l9.0 9.0M945.3 532.5l9.0 -9.0M947.5 521.6l9.0 9.0M947.5 530.6l9.0 -9.0M949.7 525.5l9.0 9.0M949.7 534.5l9.0 -9.0M951.9 521.2l9.0 9.0M951.9 530.2l9.0 -9.0M954.0 524.2l9.0 9.0M954.0 533.2l9.0 -9.0M956.2 524.5l9.0 9.0M956.2 533.5l9.0 -9.0M958.4 520.7l9.0 9.0M958.4 529.7l9.0 -9.0M960.6 521.8l9.0 9.0M960.6 530.8l9.0 -9.0" stroke="#f00" stroke-width="1.7" fill="none"/>
<polyline points="96.2,505.3 97.9,511.0 100.1,521.8 102.3,519.3 104.4,521.3 106.6,520.2 108.8,518.4 111.0,519.5 113.2,519.4 115.4,521.4 117.6,520.1 119.8,518.5 122.0,522.3 124.2,522.3 126.3,522.8 128.5,521.4 130.7,519.2 132.9,517.8 135.1,517.6 137.3,520.1 139.5,518.9 141.7,515.0 143.9,516.9 146.1,514.4 148.2,517.1 150.4,514.9 152.6,514.1 154.8,516.9 157.0,517.3 159.2,514.0 161.4,518.4 163.6,522.8 165.8,516.2 168.0,521.6 170.1,517.8 172.3,517.1 174.5,517.7 176.7,515.2 178.9,520.6 181.1,520.5 183.3,517.8 185.5,518.2 187.7,515.7 189.9,517.6 192.1,521.1 194.2,516.4 196.4,517.9 198.6,519.7 200.8,522.3 203.0,523.8 205.2,520.4 207.4,518.8 209.6,521.0 211.8,520.0 213.9,519.9 216.1,523.0 218.3,525.3 220.5,523.0 222.7,521.3 224.9,522.6 227.1,517.6 229.3,520.3 231.5,518.9 233.7,526.1 235.8,524.7 238.0,523.0 240.2,521.8 242.4,516.4 244.6,521.9 246.8,525.6 249.0,521.6 251.2,523.5 253.4,524.1 255.6,519.4 257.8,523.4 259.9,525.5 262.1,523.7 264.3,522.5 266.5,523.9 268.7,519.2 270.9,521.4 273.1,524.1 275.3,519.9 277.5,523.5 279.6,521.4 281.8,517.1 284.0,520.1 286.2,519.0 288.4,521.5 290.6,519.0 292.8,523.1 295.0,520.3 297.2,521.9 299.4,520.2 301.5,520.3 303.7,523.7 305.9,522.5 308.1,520.8 310.3,518.4 312.5,523.0 314.7,523.4 316.9,521.3 319.1,521.9 321.3,519.3 323.4,518.5 325.6,518.7 327.8,521.4 330.0,522.1 332.2,520.0 334.4,522.7 336.6,523.6 338.8,522.5 341.0,524.1 343.2,521.7 345.4,521.3 347.5,522.5 349.7,521.7 351.9,523.3 354.1,519.2 356.3,523.8 358.5,520.3 360.7,520.6 362.9,518.0 365.1,521.5 367.2,524.0 369.4,524.3 371.6,523.8 373.8,518.3 376.0,518.4 378.2,519.0 380.4,518.1 382.6,522.4 384.8,521.5 387.0,520.8 389.1,521.7 391.3,518.8 393.5,518.0 395.7,517.9 397.9,520.9 400.1,521.5 402.3,522.2 404.5,523.6 406.7,518.7 408.9,519.0 411.0,520.8 413.2,518.1 415.4,519.2 417.6,523.0 419.8,524.4 422.0,524.9 424.2,522.8 426.4,521.7 428.6,524.3 430.8,522.0 432.9,522.9 435.1,525.4 437.3,522.5 439.5,521.1 441.7,522.0 443.9,523.7 446.1,523.9 448.3,523.2 450.5,523.8 452.7,519.2 454.8,519.4 457.0,521.6 459.2,519.8 461.4,518.2 463.6,518.0 465.8,518.4 468.0,520.0 470.2,518.6 472.4,520.8 474.6,524.5 476.8,521.4 478.9,523.5 481.1,521.9 483.3,518.2 485.5,518.9 487.7,517.4 489.9,520.7 492.1,517.4 494.3,521.8 496.5,521.4 498.6,515.5 500.8,519.8 503.0,522.8 505.2,518.5 507.4,521.0 509.6,515.6 511.8,518.4 514.0,515.0 516.2,518.4 518.4,514.4 520.5,511.4 522.7,516.3 524.9,520.9 527.1,516.2 529.3,516.8 531.5,515.1 533.7,513.2 535.9,513.3 538.1,513.8 540.3,509.5 542.4,509.7 544.6,508.9 548.5,502.0 549.1,231.0 551.6,164.0 553.4,144.0 555.2,164.0 558.2,231.0 558.6,502.0 562.2,510.1 564.4,510.2 566.5,511.1 568.7,513.8 570.9,515.2 573.1,515.8 575.3,512.8 577.5,511.9 579.7,517.1 581.9,515.2 584.1,517.1 586.2,515.4 588.4,517.0 590.6,515.3 592.8,521.2 595.0,517.4 597.2,518.3 599.4,518.6 601.6,521.8 603.8,517.2 606.0,519.0 608.1,519.3 610.3,521.1 612.5,521.7 614.7,520.0 616.9,521.2 619.1,520.4 621.3,522.2 623.5,521.6 625.7,520.5 627.9,521.7 630.0,523.1 632.2,527.8 634.4,523.3 636.6,523.9 638.8,526.7 641.0,519.9 643.2,518.7 645.4,519.6 647.6,522.3 649.8,528.8 651.9,526.3 654.1,527.3 656.3,524.4 658.5,518.6 660.7,517.1 662.9,524.0 665.1,524.1 667.3,520.8 669.5,525.0 671.7,520.3 673.9,524.7 676.0,526.6 678.2,522.2 680.4,520.0 682.6,523.5 684.8,520.2 687.0,523.5 689.2,519.8 691.4,523.1 693.6,522.4 695.8,521.0 697.9,519.4 700.1,521.4 702.3,517.3 704.5,519.6 706.7,519.9 708.9,522.4 711.1,518.8 713.3,524.2 715.5,521.4 717.6,518.6 719.8,523.3 722.0,525.3 724.2,521.8 726.4,519.2 728.6,520.4 730.8,519.1 733.0,519.6 735.2,523.8 737.4,522.5 739.5,521.6 741.7,521.7 743.9,520.9 746.1,522.6 748.3,523.3 750.5,520.7 752.7,521.1 754.9,526.3 757.1,523.5 759.3,521.4 761.4,525.8 763.6,522.7 765.8,519.4 768.0,522.4 770.2,519.9 772.4,520.2 774.6,522.1 776.8,521.8 779.0,520.4 781.2,520.6 783.3,520.6 785.5,524.6 787.7,521.7 789.9,521.3 792.1,527.0 794.3,523.1 796.5,526.5 798.7,527.2 800.9,524.2 803.1,520.6 805.2,523.7 807.4,525.1 809.6,526.2 811.8,524.6 814.0,526.6 816.2,527.7 818.4,522.6 820.6,526.5 822.8,524.9 825.0,522.7 827.1,522.6 829.3,527.3 831.5,526.7 833.7,520.4 835.9,522.5 838.1,522.6 840.3,522.5 842.5,521.6 844.7,519.2 846.9,523.6 849.0,520.8 851.2,521.2 853.4,520.8 855.6,520.3 857.8,523.4 860.0,523.5 862.2,521.1 864.4,519.8 866.6,520.4 868.8,523.8 871.0,522.9 873.1,522.9 875.3,521.7 877.5,521.5 879.7,522.4 881.9,518.2 884.1,524.6 886.3,521.2 888.5,520.7 890.7,524.8 892.8,523.5 895.0,522.8 897.2,521.2 899.4,518.6 901.6,521.6 903.8,524.8 906.0,521.1 908.2,525.0 910.4,520.7 912.6,520.2 914.8,522.8 916.9,522.4 919.1,523.8 921.3,521.1 923.5,519.6 925.7,517.3 927.9,518.0 930.1,518.5 932.3,517.8 934.5,521.4 936.6,520.3 938.8,517.1 941.0,525.9 943.2,521.2 945.4,518.9 947.6,523.6 949.8,524.9 952.0,520.2 954.2,518.0 956.4,518.4 958.5,523.2 960.7,521.5 962.9,519.9 965.1,521.1" stroke="#008000" stroke-width="1.8" fill="none"/>
<path d="M103.1 505.3a6.9 6.9 0 1 0 -13.8 0a6.9 6.9 0 1 0 13.8 0M104.8 511.0a6.9 6.9 0 1 0 -13.8 0a6.9 6.9 0 1 0 13.8 0M107.0 521.8a6.9 6.9 0 1 0 -13.8 0a6.9 6.9 0 1 0 13.8 0M109.2 519.3a6.9 6.9 0 1 0 -13.8 0a6.9 6.9 0 1 0 13.8 0M111.3 521.3a6.9 6.9 0 1 0 -13.8 0a6.9 6.9 0 1 0 13.8 0M113.5 520.2a6.9 6.9 0 1 0 -13.8 0a6.9 6.9 0 1 0 13.8 0M115.7 518.4a6.9 6.9 0 1 0 -13.8 0a6.9 6.9 0 1 0 13.8 0M117.9 519.5a6.9 6.9 0 1 0 -13.8 0a6.9 6.9 0 1 0 13.8 0M120.1 519.4a6.9 6.9 0 1 0 -13.8 0a6.9 6.9 0 1 0 13.8 0M122.3 521.4a6.9 6.9 0 1 0 -13.8 0a6.9 6.9 0 1 0 13.8 0M124.5 520.1a6.9 6.9 0 1 0 -13.8 0a6.9 6.9 0 1 0 13.8 0M126.7 518.5a6.9 6.9 0 1 0 -13.8 0a6.9 6.9 0 1 0 13.8 0M128.9 522.3a6.9 6.9 0 1 0 -13.8 0a6.9 6.9 0 1 0 13.8 0M131.1 522.3a6.9 6.9 0 1 0 -13.8 0a6.9 6.9 0 1 0 13.8 0M133.2 522.8a6.9 6.9 0 1 0 -13.8 0a6.9 6.9 0 1 0 13.8 0M135.4 521.4a6.9 6.9 0 1 0 -13.8 0a6.9 6.9 0 1 0 13.8 0M137.6 519.2a6.9 6.9 0 1 0 -13.8 0a6.9 6.9 0 1 0 13.8 0M139.8 517.8a6.9 6.9 0 1 0 -13.8 0a6.9 6.9 0 1 0 13.8 0M142.0 517.6a6.9 6.9 0 1 0 -13.8 0a6.9 6.9 0 1 0 13.8 0M144.2 520.1a6.9 6.9 0 1 0 -13.8 0a6.9 6.9 0 1 0 13.8 0M146.4 518.9a6.9 6.9 0 1 0 -13.8 0a6.9 6.9 0 1 0 13.8 0M148.6 515.0a6.9 6.9 0 1 0 -13.8 0a6.9 6.9 0 1 0 13.8 0M150.8 516.9a6.9 6.9 0 1 0 -13.8 0a6.9 6.9 0 1 0 13.8 0M153.0 514.4a6.9 6.9 0 1 0 -13.8 0a6.9 6.9 0 1 0 13.8 0M155.2 517.1a6.9 6.9 0 1 0 -13.8 0a6.9 6.9 0 1 0 13.8 0M157.3 514.9a6.9 6.9 0 1 0 -13.8 0a6.9 6.9 0 1 0 13.8 0M159.5 514.1a6.9 6.9 0 1 0 -13.8 0a6.9 6.9 0 1 0 13.8 0M161.7 516.9a6.9 6.9 0 1 0 -13.8 0a6.9 6.9 0 1 0 13.8 0M163.9 517.3a6.9 6.9 0 1 0 -13.8 0a6.9 6.9 0 1 0 13.8 0M166.1 514.0a6.9 6.9 0 1 0 -13.8 0a6.9 6.9 0 1 0 13.8 0M168.3 518.4a6.9 6.9 0 1 0 -13.8 0a6.9 6.9 0 1 0 13.8 0M170.5 522.8a6.9 6.9 0 1 0 -13.8 0a6.9 6.9 0 1 0 13.8 0M172.7 516.2a6.9 6.9 0 1 0 -13.8 0a6.9 6.9 0 1 0 13.8 0M174.9 521.6a6.9 6.9 0 1 0 -13.8 0a6.9 6.9 0 1 0 13.8 0M177.0 517.8a6.9 6.9 0 1 0 -13.8 0a6.9 6.9 0 1 0 13.8 0M179.2 517.1a6.9 6.9 0 1 0 -13.8 0a6.9 6.9 0 1 0 13.8 0M181.4 517.7a6.9 6.9 0 1 0 -13.8 0a6.9 6.9 0 1 0 13.8 0M183.6 515.2a6.9 6.9 0 1 0 -13.8 0a6.9 6.9 0 1 0 13.8 0M185.8 520.6a6.9 6.9 0 1 0 -13.8 0a6.9 6.9 0 1 0 13.8 0M188.0 520.5a6.9 6.9 0 1 0 -13.8 0a6.9 6.9 0 1 0 13.8 0M190.2 517.8a6.9 6.9 0 1 0 -13.8 0a6.9 6.9 0 1 0 13.8 0M192.4 518.2a6.9 6.9 0 1 0 -13.8 0a6.9 6.9 0 1 0 13.8 0M194.6 515.7a6.9 6.9 0 1 0 -13.8 0a6.9 6.9 0 1 0 13.8 0M196.8 517.6a6.9 6.9 0 1 0 -13.8 0a6.9 6.9 0 1 0 13.8 0M199.0 521.1a6.9 6.9 0 1 0 -13.8 0a6.9 6.9 0 1 0 13.8 0M201.1 516.4a6.9 6.9 0 1 0 -13.8 0a6.9 6.9 0 1 0 13.8 0M203.3 517.9a6.9 6.9 0 1 0 -13.8 0a6.9 6.9 0 1 0 13.8 0M205.5 519.7a6.9 6.9 0 1 0 -13.8 0a6.9 6.9 0 1 0 13.8 0M207.7 522.3a6.9 6.9 0 1 0 -13.8 0a6.9 6.9 0 1 0 13.8 0M209.9 523.8a6.9 6.9 0 1 0 -13.8 0a6.9 6.9 0 1 0 13.8 0M212.1 520.4a6.9 6.9 0 1 0 -13.8 0a6.9 6.9 0 1 0 13.8 0M214.3 518.8a6.9 6.9 0 1 0 -13.8 0a6.9 6.9 0 1 0 13.8 0M216.5 521.0a6.9 6.9 0 1 0 -13.8 0a6.9 6.9 0 1 0 13.8 0M218.7 520.0a6.9 6.9 0 1 0 -13.8 0a6.9 6.9 0 1 0 13.8 0M220.8 519.9a6.9 6.9 0 1 0 -13.8 0a6.9 6.9 0 1 0 13.8 0M223.0 523.0a6.9 6.9 0 1 0 -13.8 0a6.9 6.9 0 1 0 13.8 0M225.2 525.3a6.9 6.9 0 1 0 -13.8 0a6.9 6.9 0 1 0 13.8 0M227.4 523.0a6.9 6.9 0 1 0 -13.8 0a6.9 6.9 0 1 0 13.8 0M229.6 521.3a6.9 6.9 0 1 0 -13.8 0a6.9 6.9 0 1 0 13.8 0M231.8 522.6a6.9 6.9 0 1 0 -13.8 0a6.9 6.9 0 1 0 13.8 0M234.0 517.6a6.9 6.9 0 1 0 -13.8 0a6.9 6.9 0 1 0 13.8 0M236.2 520.3a6.9 6.9 0 1 0 -13.8 0a6.9 6.9 0 1 0 13.8 0M238.4 518.9a6.9 6.9 0 1 0 -13.8 0a6.9 6.9 0 1 0 13.8 0M240.6 526.1a6.9 6.9 0 1 0 -13.8 0a6.9 6.9 0 1 0 13.8 0M242.7 524.7a6.9 6.9 0 1 0 -13.8 0a6.9 6.9 0 1 0 13.8 0M244.9 523.0a6.9 6.9 0 1 0 -13.8 0a6.9 6.9 0 1 0 13.8 0M247.1 521.8a6.9 6.9 0 1 0 -13.8 0a6.9 6.9 0 1 0 13.8 0M249.3 516.4a6.9 6.9 0 1 0 -13.8 0a6.9 6.9 0 1 0 13.8 0M251.5 521.9a6.9 6.9 0 1 0 -13.8 0a6.9 6.9 0 1 0 13.8 0M253.7 525.6a6.9 6.9 0 1 0 -13.8 0a6.9 6.9 0 1 0 13.8 0M255.9 521.6a6.9 6.9 0 1 0 -13.8 0a6.9 6.9 0 1 0 13.8 0M258.1 523.5a6.9 6.9 0 1 0 -13.8 0a6.9 6.9 0 1 0 13.8 0M260.3 524.1a6.9 6.9 0 1 0 -13.8 0a6.9 6.9 0 1 0 13.8 0M262.5 519.4a6.9 6.9 0 1 0 -13.8 0a6.9 6.9 0 1 0 13.8 0M264.6 523.4a6.9 6.9 0 1 0 -13.8 0a6.9 6.9 0 1 0 13.8 0M266.8 525.5a6.9 6.9 0 1 0 -13.8 0a6.9 6.9 0 1 0 13.8 0M269.0 523.7a6.9 6.9 0 1 0 -13.8 0a6.9 6.9 0 1 0 13.8 0M271.2 522.5a6.9 6.9 0 1 0 -13.8 0a6.9 6.9 0 1 0 13.8 0M273.4 523.9a6.9 6.9 0 1 0 -13.8 0a6.9 6.9 0 1 0 13.8 0M275.6 519.2a6.9 6.9 0 1 0 -13.8 0a6.9 6.9 0 1 0 13.8 0M277.8 521.4a6.9 6.9 0 1 0 -13.8 0a6.9 6.9 0 1 0 13.8 0M280.0 524.1a6.9 6.9 0 1 0 -13.8 0a6.9 6.9 0 1 0 13.8 0M282.2 519.9a6.9 6.9 0 1 0 -13.8 0a6.9 6.9 0 1 0 13.8 0M284.4 523.5a6.9 6.9 0 1 0 -13.8 0a6.9 6.9 0 1 0 13.8 0M286.5 521.4a6.9 6.9 0 1 0 -13.8 0a6.9 6.9 0 1 0 13.8 0M288.7 517.1a6.9 6.9 0 1 0 -13.8 0a6.9 6.9 0 1 0 13.8 0M290.9 520.1a6.9 6.9 0 1 0 -13.8 0a6.9 6.9 0 1 0 13.8 0M293.1 519.0a6.9 6.9 0 1 0 -13.8 0a6.9 6.9 0 1 0 13.8 0M295.3 521.5a6.9 6.9 0 1 0 -13.8 0a6.9 6.9 0 1 0 13.8 0M297.5 519.0a6.9 6.9 0 1 0 -13.8 0a6.9 6.9 0 1 0 13.8 0M299.7 523.1a6.9 6.9 0 1 0 -13.8 0a6.9 6.9 0 1 0 13.8 0M301.9 520.3a6.9 6.9 0 1 0 -13.8 0a6.9 6.9 0 1 0 13.8 0M304.1 521.9a6.9 6.9 0 1 0 -13.8 0a6.9 6.9 0 1 0 13.8 0M306.3 520.2a6.9 6.9 0 1 0 -13.8 0a6.9 6.9 0 1 0 13.8 0M308.4 520.3a6.9 6.9 0 1 0 -13.8 0a6.9 6.9 0 1 0 13.8 0M310.6 523.7a6.9 6.9 0 1 0 -13.8 0a6.9 6.9 0 1 0 13.8 0M312.8 522.5a6.9 6.9 0 1 0 -13.8 0a6.9 6.9 0 1 0 13.8 0M315.0 520.8a6.9 6.9 0 1 0 -13.8 0a6.9 6.9 0 1 0 13.8 0M317.2 518.4a6.9 6.9 0 1 0 -13.8 0a6.9 6.9 0 1 0 13.8 0M319.4 523.0a6.9 6.9 0 1 0 -13.8 0a6.9 6.9 0 1 0 13.8 0M321.6 523.4a6.9 6.9 0 1 0 -13.8 0a6.9 6.9 0 1 0 13.8 0M323.8 521.3a6.9 6.9 0 1 0 -13.8 0a6.9 6.9 0 1 0 13.8 0M326.0 521.9a6.9 6.9 0 1 0 -13.8 0a6.9 6.9 0 1 0 13.8 0M328.2 519.3a6.9 6.9 0 1 0 -13.8 0a6.9 6.9 0 1 0 13.8 0M330.3 518.5a6.9 6.9 0 1 0 -13.8 0a6.9 6.9 0 1 0 13.8 0M332.5 518.7a6.9 6.9 0 1 0 -13.8 0a6.9 6.9 0 1 0 13.8 0M334.7 521.4a6.9 6.9 0 1 0 -13.8 0a6.9 6.9 0 1 0 13.8 0M336.9 522.1a6.9 6.9 0 1 0 -13.8 0a6.9 6.9 0 1 0 13.8 0M339.1 520.0a6.9 6.9 0 1 0 -13.8 0a6.9 6.9 0 1 0 13.8 0M341.3 522.7a6.9 6.9 0 1 0 -13.8 0a6.9 6.9 0 1 0 13.8 0M343.5 523.6a6.9 6.9 0 1 0 -13.8 0a6.9 6.9 0 1 0 13.8 0M345.7 522.5a6.9 6.9 0 1 0 -13.8 0a6.9 6.9 0 1 0 13.8 0M347.9 524.1a6.9 6.9 0 1 0 -13.8 0a6.9 6.9 0 1 0 13.8 0M350.1 521.7a6.9 6.9 0 1 0 -13.8 0a6.9 6.9 0 1 0 13.8 0M352.2 521.3a6.9 6.9 0 1 0 -13.8 0a6.9 6.9 0 1 0 13.8 0M354.4 522.5a6.9 6.9 0 1 0 -13.8 0a6.9 6.9 0 1 0 13.8 0M356.6 521.7a6.9 6.9 0 1 0 -13.8 0a6.9 6.9 0 1 0 13.8 0M358.8 523.3a6.9 6.9 0 1 0 -13.8 0a6.9 6.9 0 1 0 13.8 0M361.0 519.2a6.9 6.9 0 1 0 -13.8 0a6.9 6.9 0 1 0 13.8 0M363.2 523.8a6.9 6.9 0 1 0 -13.8 0a6.9 6.9 0 1 0 13.8 0M365.4 520.3a6.9 6.9 0 1 0 -13.8 0a6.9 6.9 0 1 0 13.8 0M367.6 520.6a6.9 6.9 0 1 0 -13.8 0a6.9 6.9 0 1 0 13.8 0M369.8 518.0a6.9 6.9 0 1 0 -13.8 0a6.9 6.9 0 1 0 13.8 0M372.0 521.5a6.9 6.9 0 1 0 -13.8 0a6.9 6.9 0 1 0 13.8 0M374.1 524.0a6.9 6.9 0 1 0 -13.8 0a6.9 6.9 0 1 0 13.8 0M376.3 524.3a6.9 6.9 0 1 0 -13.8 0a6.9 6.9 0 1 0 13.8 0M378.5 523.8a6.9 6.9 0 1 0 -13.8 0a6.9 6.9 0 1 0 13.8 0M380.7 518.3a6.9 6.9 0 1 0 -13.8 0a6.9 6.9 0 1 0 13.8 0M382.9 518.4a6.9 6.9 0 1 0 -13.8 0a6.9 6.9 0 1 0 13.8 0M385.1 519.0a6.9 6.9 0 1 0 -13.8 0a6.9 6.9 0 1 0 13.8 0M387.3 518.1a6.9 6.9 0 1 0 -13.8 0a6.9 6.9 0 1 0 13.8 0M389.5 522.4a6.9 6.9 0 1 0 -13.8 0a6.9 6.9 0 1 0 13.8 0M391.7 521.5a6.9 6.9 0 1 0 -13.8 0a6.9 6.9 0 1 0 13.8 0M393.9 520.8a6.9 6.9 0 1 0 -13.8 0a6.9 6.9 0 1 0 13.8 0M396.0 521.7a6.9 6.9 0 1 0 -13.8 0a6.9 6.9 0 1 0 13.8 0M398.2 518.8a6.9 6.9 0 1 0 -13.8 0a6.9 6.9 0 1 0 13.8 0M400.4 518.0a6.9 6.9 0 1 0 -13.8 0a6.9 6.9 0 1 0 13.8 0M402.6 517.9a6.9 6.9 0 1 0 -13.8 0a6.9 6.9 0 1 0 13.8 0M404.8 520.9a6.9 6.9 0 1 0 -13.8 0a6.9 6.9 0 1 0 13.8 0M407.0 521.5a6.9 6.9 0 1 0 -13.8 0a6.9 6.9 0 1 0 13.8 0M409.2 522.2a6.9 6.9 0 1 0 -13.8 0a6.9 6.9 0 1 0 13.8 0M411.4 523.6a6.9 6.9 0 1 0 -13.8 0a6.9 6.9 0 1 0 13.8 0M413.6 518.7a6.9 6.9 0 1 0 -13.8 0a6.9 6.9 0 1 0 13.8 0M415.8 519.0a6.9 6.9 0 1 0 -13.8 0a6.9 6.9 0 1 0 13.8 0M417.9 520.8a6.9 6.9 0 1 0 -13.8 0a6.9 6.9 0 1 0 13.8 0M420.1 518.1a6.9 6.9 0 1 0 -13.8 0a6.9 6.9 0 1 0 13.8 0M422.3 519.2a6.9 6.9 0 1 0 -13.8 0a6.9 6.9 0 1 0 13.8 0M424.5 523.0a6.9 6.9 0 1 0 -13.8 0a6.9 6.9 0 1 0 13.8 0M426.7 524.4a6.9 6.9 0 1 0 -13.8 0a6.9 6.9 0 1 0 13.8 0M428.9 524.9a6.9 6.9 0 1 0 -13.8 0a6.9 6.9 0 1 0 13.8 0M431.1 522.8a6.9 6.9 0 1 0 -13.8 0a6.9 6.9 0 1 0 13.8 0M433.3 521.7a6.9 6.9 0 1 0 -13.8 0a6.9 6.9 0 1 0 13.8 0M435.5 524.3a6.9 6.9 0 1 0 -13.8 0a6.9 6.9 0 1 0 13.8 0M437.7 522.0a6.9 6.9 0 1 0 -13.8 0a6.9 6.9 0 1 0 13.8 0M439.8 522.9a6.9 6.9 0 1 0 -13.8 0a6.9 6.9 0 1 0 13.8 0M442.0 525.4a6.9 6.9 0 1 0 -13.8 0a6.9 6.9 0 1 0 13.8 0M444.2 522.5a6.9 6.9 0 1 0 -13.8 0a6.9 6.9 0 1 0 13.8 0M446.4 521.1a6.9 6.9 0 1 0 -13.8 0a6.9 6.9 0 1 0 13.8 0M448.6 522.0a6.9 6.9 0 1 0 -13.8 0a6.9 6.9 0 1 0 13.8 0M450.8 523.7a6.9 6.9 0 1 0 -13.8 0a6.9 6.9 0 1 0 13.8 0M453.0 523.9a6.9 6.9 0 1 0 -13.8 0a6.9 6.9 0 1 0 13.8 0M455.2 523.2a6.9 6.9 0 1 0 -13.8 0a6.9 6.9 0 1 0 13.8 0M457.4 523.8a6.9 6.9 0 1 0 -13.8 0a6.9 6.9 0 1 0 13.8 0M459.6 519.2a6.9 6.9 0 1 0 -13.8 0a6.9 6.9 0 1 0 13.8 0M461.7 519.4a6.9 6.9 0 1 0 -13.8 0a6.9 6.9 0 1 0 13.8 0M463.9 521.6a6.9 6.9 0 1 0 -13.8 0a6.9 6.9 0 1 0 13.8 0M466.1 519.8a6.9 6.9 0 1 0 -13.8 0a6.9 6.9 0 1 0 13.8 0M468.3 518.2a6.9 6.9 0 1 0 -13.8 0a6.9 6.9 0 1 0 13.8 0M470.5 518.0a6.9 6.9 0 1 0 -13.8 0a6.9 6.9 0 1 0 13.8 0M472.7 518.4a6.9 6.9 0 1 0 -13.8 0a6.9 6.9 0 1 0 13.8 0M474.9 520.0a6.9 6.9 0 1 0 -13.8 0a6.9 6.9 0 1 0 13.8 0M477.1 518.6a6.9 6.9 0 1 0 -13.8 0a6.9 6.9 0 1 0 13.8 0M479.3 520.8a6.9 6.9 0 1 0 -13.8 0a6.9 6.9 0 1 0 13.8 0M481.5 524.5a6.9 6.9 0 1 0 -13.8 0a6.9 6.9 0 1 0 13.8 0M483.6 521.4a6.9 6.9 0 1 0 -13.8 0a6.9 6.9 0 1 0 13.8 0M485.8 523.5a6.9 6.9 0 1 0 -13.8 0a6.9 6.9 0 1 0 13.8 0M488.0 521.9a6.9 6.9 0 1 0 -13.8 0a6.9 6.9 0 1 0 13.8 0M490.2 518.2a6.9 6.9 0 1 0 -13.8 0a6.9 6.9 0 1 0 13.8 0M492.4 518.9a6.9 6.9 0 1 0 -13.8 0a6.9 6.9 0 1 0 13.8 0M494.6 517.4a6.9 6.9 0 1 0 -13.8 0a6.9 6.9 0 1 0 13.8 0M496.8 520.7a6.9 6.9 0 1 0 -13.8 0a6.9 6.9 0 1 0 13.8 0M499.0 517.4a6.9 6.9 0 1 0 -13.8 0a6.9 6.9 0 1 0 13.8 0M501.2 521.8a6.9 6.9 0 1 0 -13.8 0a6.9 6.9 0 1 0 13.8 0M503.4 521.4a6.9 6.9 0 1 0 -13.8 0a6.9 6.9 0 1 0 13.8 0M505.5 515.5a6.9 6.9 0 1 0 -13.8 0a6.9 6.9 0 1 0 13.8 0M507.7 519.8a6.9 6.9 0 1 0 -13.8 0a6.9 6.9 0 1 0 13.8 0M509.9 522.8a6.9 6.9 0 1 0 -13.8 0a6.9 6.9 0 1 0 13.8 0M512.1 518.5a6.9 6.9 0 1 0 -13.8 0a6.9 6.9 0 1 0 13.8 0M514.3 521.0a6.9 6.9 0 1 0 -13.8 0a6.9 6.9 0 1 0 13.8 0M516.5 515.6a6.9 6.9 0 1 0 -13.8 0a6.9 6.9 0 1 0 13.8 0M518.7 518.4a6.9 6.9 0 1 0 -13.8 0a6.9 6.9 0 1 0 13.8 0M520.9 515.0a6.9 6.9 0 1 0 -13.8 0a6.9 6.9 0 1 0 13.8 0M523.1 518.4a6.9 6.9 0 1 0 -13.8 0a6.9 6.9 0 1 0 13.8 0M525.3 514.4a6.9 6.9 0 1 0 -13.8 0a6.9 6.9 0 1 0 13.8 0M527.4 511.4a6.9 6.9 0 1 0 -13.8 0a6.9 6.9 0 1 0 13.8 0M529.6 516.3a6.9 6.9 0 1 0 -13.8 0a6.9 6.9 0 1 0 13.8 0M531.8 520.9a6.9 6.9 0 1 0 -13.8 0a6.9 6.9 0 1 0 13.8 0M534.0 516.2a6.9 6.9 0 1 0 -13.8 0a6.9 6.9 0 1 0 13.8 0M536.2 516.8a6.9 6.9 0 1 0 -13.8 0a6.9 6.9 0 1 0 13.8 0M538.4 515.1a6.9 6.9 0 1 0 -13.8 0a6.9 6.9 0 1 0 13.8 0M540.6 513.2a6.9 6.9 0 1 0 -13.8 0a6.9 6.9 0 1 0 13.8 0M542.8 513.3a6.9 6.9 0 1 0 -13.8 0a6.9 6.9 0 1 0 13.8 0M545.0 513.8a6.9 6.9 0 1 0 -13.8 0a6.9 6.9 0 1 0 13.8 0M547.2 509.5a6.9 6.9 0 1 0 -13.8 0a6.9 6.9 0 1 0 13.8 0M549.3 509.7a6.9 6.9 0 1 0 -13.8 0a6.9 6.9 0 1 0 13.8 0M551.5 508.9a6.9 6.9 0 1 0 -13.8 0a6.9 6.9 0 1 0 13.8 0M555.4 502.0a6.9 6.9 0 1 0 -13.8 0a6.9 6.9 0 1 0 13.8 0M556.0 231.0a6.9 6.9 0 1 0 -13.8 0a6.9 6.9 0 1 0 13.8 0M558.5 164.0a6.9 6.9 0 1 0 -13.8 0a6.9 6.9 0 1 0 13.8 0M560.3 144.0a6.9 6.9 0 1 0 -13.8 0a6.9 6.9 0 1 0 13.8 0M562.1 164.0a6.9 6.9 0 1 0 -13.8 0a6.9 6.9 0 1 0 13.8 0M565.1 231.0a6.9 6.9 0 1 0 -13.8 0a6.9 6.9 0 1 0 13.8 0M565.5 502.0a6.9 6.9 0 1 0 -13.8 0a6.9 6.9 0 1 0 13.8 0M569.1 510.1a6.9 6.9 0 1 0 -13.8 0a6.9 6.9 0 1 0 13.8 0M571.2 510.2a6.9 6.9 0 1 0 -13.8 0a6.9 6.9 0 1 0 13.8 0M573.4 511.1a6.9 6.9 0 1 0 -13.8 0a6.9 6.9 0 1 0 13.8 0M575.6 513.8a6.9 6.9 0 1 0 -13.8 0a6.9 6.9 0 1 0 13.8 0M577.8 515.2a6.9 6.9 0 1 0 -13.8 0a6.9 6.9 0 1 0 13.8 0M580.0 515.8a6.9 6.9 0 1 0 -13.8 0a6.9 6.9 0 1 0 13.8 0M582.2 512.8a6.9 6.9 0 1 0 -13.8 0a6.9 6.9 0 1 0 13.8 0M584.4 511.9a6.9 6.9 0 1 0 -13.8 0a6.9 6.9 0 1 0 13.8 0M586.6 517.1a6.9 6.9 0 1 0 -13.8 0a6.9 6.9 0 1 0 13.8 0M588.8 515.2a6.9 6.9 0 1 0 -13.8 0a6.9 6.9 0 1 0 13.8 0M591.0 517.1a6.9 6.9 0 1 0 -13.8 0a6.9 6.9 0 1 0 13.8 0M593.1 515.4a6.9 6.9 0 1 0 -13.8 0a6.9 6.9 0 1 0 13.8 0M595.3 517.0a6.9 6.9 0 1 0 -13.8 0a6.9 6.9 0 1 0 13.8 0M597.5 515.3a6.9 6.9 0 1 0 -13.8 0a6.9 6.9 0 1 0 13.8 0M599.7 521.2a6.9 6.9 0 1 0 -13.8 0a6.9 6.9 0 1 0 13.8 0M601.9 517.4a6.9 6.9 0 1 0 -13.8 0a6.9 6.9 0 1 0 13.8 0M604.1 518.3a6.9 6.9 0 1 0 -13.8 0a6.9 6.9 0 1 0 13.8 0M606.3 518.6a6.9 6.9 0 1 0 -13.8 0a6.9 6.9 0 1 0 13.8 0M608.5 521.8a6.9 6.9 0 1 0 -13.8 0a6.9 6.9 0 1 0 13.8 0M610.7 517.2a6.9 6.9 0 1 0 -13.8 0a6.9 6.9 0 1 0 13.8 0M612.9 519.0a6.9 6.9 0 1 0 -13.8 0a6.9 6.9 0 1 0 13.8 0M615.0 519.3a6.9 6.9 0 1 0 -13.8 0a6.9 6.9 0 1 0 13.8 0M617.2 521.1a6.9 6.9 0 1 0 -13.8 0a6.9 6.9 0 1 0 13.8 0M619.4 521.7a6.9 6.9 0 1 0 -13.8 0a6.9 6.9 0 1 0 13.8 0M621.6 520.0a6.9 6.9 0 1 0 -13.8 0a6.9 6.9 0 1 0 13.8 0M623.8 521.2a6.9 6.9 0 1 0 -13.8 0a6.9 6.9 0 1 0 13.8 0M626.0 520.4a6.9 6.9 0 1 0 -13.8 0a6.9 6.9 0 1 0 13.8 0M628.2 522.2a6.9 6.9 0 1 0 -13.8 0a6.9 6.9 0 1 0 13.8 0M630.4 521.6a6.9 6.9 0 1 0 -13.8 0a6.9 6.9 0 1 0 13.8 0M632.6 520.5a6.9 6.9 0 1 0 -13.8 0a6.9 6.9 0 1 0 13.8 0M634.8 521.7a6.9 6.9 0 1 0 -13.8 0a6.9 6.9 0 1 0 13.8 0M636.9 523.1a6.9 6.9 0 1 0 -13.8 0a6.9 6.9 0 1 0 13.8 0M639.1 527.8a6.9 6.9 0 1 0 -13.8 0a6.9 6.9 0 1 0 13.8 0M641.3 523.3a6.9 6.9 0 1 0 -13.8 0a6.9 6.9 0 1 0 13.8 0M643.5 523.9a6.9 6.9 0 1 0 -13.8 0a6.9 6.9 0 1 0 13.8 0M645.7 526.7a6.9 6.9 0 1 0 -13.8 0a6.9 6.9 0 1 0 13.8 0M647.9 519.9a6.9 6.9 0 1 0 -13.8 0a6.9 6.9 0 1 0 13.8 0M650.1 518.7a6.9 6.9 0 1 0 -13.8 0a6.9 6.9 0 1 0 13.8 0M652.3 519.6a6.9 6.9 0 1 0 -13.8 0a6.9 6.9 0 1 0 13.8 0M654.5 522.3a6.9 6.9 0 1 0 -13.8 0a6.9 6.9 0 1 0 13.8 0M656.7 528.8a6.9 6.9 0 1 0 -13.8 0a6.9 6.9 0 1 0 13.8 0M658.8 526.3a6.9 6.9 0 1 0 -13.8 0a6.9 6.9 0 1 0 13.8 0M661.0 527.3a6.9 6.9 0 1 0 -13.8 0a6.9 6.9 0 1 0 13.8 0M663.2 524.4a6.9 6.9 0 1 0 -13.8 0a6.9 6.9 0 1 0 13.8 0M665.4 518.6a6.9 6.9 0 1 0 -13.8 0a6.9 6.9 0 1 0 13.8 0M667.6 517.1a6.9 6.9 0 1 0 -13.8 0a6.9 6.9 0 1 0 13.8 0M669.8 524.0a6.9 6.9 0 1 0 -13.8 0a6.9 6.9 0 1 0 13.8 0M672.0 524.1a6.9 6.9 0 1 0 -13.8 0a6.9 6.9 0 1 0 13.8 0M674.2 520.8a6.9 6.9 0 1 0 -13.8 0a6.9 6.9 0 1 0 13.8 0M676.4 525.0a6.9 6.9 0 1 0 -13.8 0a6.9 6.9 0 1 0 13.8 0M678.6 520.3a6.9 6.9 0 1 0 -13.8 0a6.9 6.9 0 1 0 13.8 0M680.8 524.7a6.9 6.9 0 1 0 -13.8 0a6.9 6.9 0 1 0 13.8 0M682.9 526.6a6.9 6.9 0 1 0 -13.8 0a6.9 6.9 0 1 0 13.8 0M685.1 522.2a6.9 6.9 0 1 0 -13.8 0a6.9 6.9 0 1 0 13.8 0M687.3 520.0a6.9 6.9 0 1 0 -13.8 0a6.9 6.9 0 1 0 13.8 0M689.5 523.5a6.9 6.9 0 1 0 -13.8 0a6.9 6.9 0 1 0 13.8 0M691.7 520.2a6.9 6.9 0 1 0 -13.8 0a6.9 6.9 0 1 0 13.8 0M693.9 523.5a6.9 6.9 0 1 0 -13.8 0a6.9 6.9 0 1 0 13.8 0M696.1 519.8a6.9 6.9 0 1 0 -13.8 0a6.9 6.9 0 1 0 13.8 0M698.3 523.1a6.9 6.9 0 1 0 -13.8 0a6.9 6.9 0 1 0 13.8 0M700.5 522.4a6.9 6.9 0 1 0 -13.8 0a6.9 6.9 0 1 0 13.8 0M702.6 521.0a6.9 6.9 0 1 0 -13.8 0a6.9 6.9 0 1 0 13.8 0M704.8 519.4a6.9 6.9 0 1 0 -13.8 0a6.9 6.9 0 1 0 13.8 0M707.0 521.4a6.9 6.9 0 1 0 -13.8 0a6.9 6.9 0 1 0 13.8 0M709.2 517.3a6.9 6.9 0 1 0 -13.8 0a6.9 6.9 0 1 0 13.8 0M711.4 519.6a6.9 6.9 0 1 0 -13.8 0a6.9 6.9 0 1 0 13.8 0M713.6 519.9a6.9 6.9 0 1 0 -13.8 0a6.9 6.9 0 1 0 13.8 0M715.8 522.4a6.9 6.9 0 1 0 -13.8 0a6.9 6.9 0 1 0 13.8 0M718.0 518.8a6.9 6.9 0 1 0 -13.8 0a6.9 6.9 0 1 0 13.8 0M720.2 524.2a6.9 6.9 0 1 0 -13.8 0a6.9 6.9 0 1 0 13.8 0M722.4 521.4a6.9 6.9 0 1 0 -13.8 0a6.9 6.9 0 1 0 13.8 0M724.5 518.6a6.9 6.9 0 1 0 -13.8 0a6.9 6.9 0 1 0 13.8 0M726.7 523.3a6.9 6.9 0 1 0 -13.8 0a6.9 6.9 0 1 0 13.8 0M728.9 525.3a6.9 6.9 0 1 0 -13.8 0a6.9 6.9 0 1 0 13.8 0M731.1 521.8a6.9 6.9 0 1 0 -13.8 0a6.9 6.9 0 1 0 13.8 0M733.3 519.2a6.9 6.9 0 1 0 -13.8 0a6.9 6.9 0 1 0 13.8 0M735.5 520.4a6.9 6.9 0 1 0 -13.8 0a6.9 6.9 0 1 0 13.8 0M737.7 519.1a6.9 6.9 0 1 0 -13.8 0a6.9 6.9 0 1 0 13.8 0M739.9 519.6a6.9 6.9 0 1 0 -13.8 0a6.9 6.9 0 1 0 13.8 0M742.1 523.8a6.9 6.9 0 1 0 -13.8 0a6.9 6.9 0 1 0 13.8 0M744.3 522.5a6.9 6.9 0 1 0 -13.8 0a6.9 6.9 0 1 0 13.8 0M746.4 521.6a6.9 6.9 0 1 0 -13.8 0a6.9 6.9 0 1 0 13.8 0M748.6 521.7a6.9 6.9 0 1 0 -13.8 0a6.9 6.9 0 1 0 13.8 0M750.8 520.9a6.9 6.9 0 1 0 -13.8 0a6.9 6.9 0 1 0 13.8 0M753.0 522.6a6.9 6.9 0 1 0 -13.8 0a6.9 6.9 0 1 0 13.8 0M755.2 523.3a6.9 6.9 0 1 0 -13.8 0a6.9 6.9 0 1 0 13.8 0M757.4 520.7a6.9 6.9 0 1 0 -13.8 0a6.9 6.9 0 1 0 13.8 0M759.6 521.1a6.9 6.9 0 1 0 -13.8 0a6.9 6.9 0 1 0 13.8 0M761.8 526.3a6.9 6.9 0 1 0 -13.8 0a6.9 6.9 0 1 0 13.8 0M764.0 523.5a6.9 6.9 0 1 0 -13.8 0a6.9 6.9 0 1 0 13.8 0M766.2 521.4a6.9 6.9 0 1 0 -13.8 0a6.9 6.9 0 1 0 13.8 0M768.3 525.8a6.9 6.9 0 1 0 -13.8 0a6.9 6.9 0 1 0 13.8 0M770.5 522.7a6.9 6.9 0 1 0 -13.8 0a6.9 6.9 0 1 0 13.8 0M772.7 519.4a6.9 6.9 0 1 0 -13.8 0a6.9 6.9 0 1 0 13.8 0M774.9 522.4a6.9 6.9 0 1 0 -13.8 0a6.9 6.9 0 1 0 13.8 0M777.1 519.9a6.9 6.9 0 1 0 -13.8 0a6.9 6.9 0 1 0 13.8 0M779.3 520.2a6.9 6.9 0 1 0 -13.8 0a6.9 6.9 0 1 0 13.8 0M781.5 522.1a6.9 6.9 0 1 0 -13.8 0a6.9 6.9 0 1 0 13.8 0M783.7 521.8a6.9 6.9 0 1 0 -13.8 0a6.9 6.9 0 1 0 13.8 0M785.9 520.4a6.9 6.9 0 1 0 -13.8 0a6.9 6.9 0 1 0 13.8 0M788.1 520.6a6.9 6.9 0 1 0 -13.8 0a6.9 6.9 0 1 0 13.8 0M790.2 520.6a6.9 6.9 0 1 0 -13.8 0a6.9 6.9 0 1 0 13.8 0M792.4 524.6a6.9 6.9 0 1 0 -13.8 0a6.9 6.9 0 1 0 13.8 0M794.6 521.7a6.9 6.9 0 1 0 -13.8 0a6.9 6.9 0 1 0 13.8 0M796.8 521.3a6.9 6.9 0 1 0 -13.8 0a6.9 6.9 0 1 0 13.8 0M799.0 527.0a6.9 6.9 0 1 0 -13.8 0a6.9 6.9 0 1 0 13.8 0M801.2 523.1a6.9 6.9 0 1 0 -13.8 0a6.9 6.9 0 1 0 13.8 0M803.4 526.5a6.9 6.9 0 1 0 -13.8 0a6.9 6.9 0 1 0 13.8 0M805.6 527.2a6.9 6.9 0 1 0 -13.8 0a6.9 6.9 0 1 0 13.8 0M807.8 524.2a6.9 6.9 0 1 0 -13.8 0a6.9 6.9 0 1 0 13.8 0M810.0 520.6a6.9 6.9 0 1 0 -13.8 0a6.9 6.9 0 1 0 13.8 0M812.1 523.7a6.9 6.9 0 1 0 -13.8 0a6.9 6.9 0 1 0 13.8 0M814.3 525.1a6.9 6.9 0 1 0 -13.8 0a6.9 6.9 0 1 0 13.8 0M816.5 526.2a6.9 6.9 0 1 0 -13.8 0a6.9 6.9 0 1 0 13.8 0M818.7 524.6a6.9 6.9 0 1 0 -13.8 0a6.9 6.9 0 1 0 13.8 0M820.9 526.6a6.9 6.9 0 1 0 -13.8 0a6.9 6.9 0 1 0 13.8 0M823.1 527.7a6.9 6.9 0 1 0 -13.8 0a6.9 6.9 0 1 0 13.8 0M825.3 522.6a6.9 6.9 0 1 0 -13.8 0a6.9 6.9 0 1 0 13.8 0M827.5 526.5a6.9 6.9 0 1 0 -13.8 0a6.9 6.9 0 1 0 13.8 0M829.7 524.9a6.9 6.9 0 1 0 -13.8 0a6.9 6.9 0 1 0 13.8 0M831.9 522.7a6.9 6.9 0 1 0 -13.8 0a6.9 6.9 0 1 0 13.8 0M834.0 522.6a6.9 6.9 0 1 0 -13.8 0a6.9 6.9 0 1 0 13.8 0M836.2 527.3a6.9 6.9 0 1 0 -13.8 0a6.9 6.9 0 1 0 13.8 0M838.4 526.7a6.9 6.9 0 1 0 -13.8 0a6.9 6.9 0 1 0 13.8 0M840.6 520.4a6.9 6.9 0 1 0 -13.8 0a6.9 6.9 0 1 0 13.8 0M842.8 522.5a6.9 6.9 0 1 0 -13.8 0a6.9 6.9 0 1 0 13.8 0M845.0 522.6a6.9 6.9 0 1 0 -13.8 0a6.9 6.9 0 1 0 13.8 0M847.2 522.5a6.9 6.9 0 1 0 -13.8 0a6.9 6.9 0 1 0 13.8 0M849.4 521.6a6.9 6.9 0 1 0 -13.8 0a6.9 6.9 0 1 0 13.8 0M851.6 519.2a6.9 6.9 0 1 0 -13.8 0a6.9 6.9 0 1 0 13.8 0M853.8 523.6a6.9 6.9 0 1 0 -13.8 0a6.9 6.9 0 1 0 13.8 0M855.9 520.8a6.9 6.9 0 1 0 -13.8 0a6.9 6.9 0 1 0 13.8 0M858.1 521.2a6.9 6.9 0 1 0 -13.8 0a6.9 6.9 0 1 0 13.8 0M860.3 520.8a6.9 6.9 0 1 0 -13.8 0a6.9 6.9 0 1 0 13.8 0M862.5 520.3a6.9 6.9 0 1 0 -13.8 0a6.9 6.9 0 1 0 13.8 0M864.7 523.4a6.9 6.9 0 1 0 -13.8 0a6.9 6.9 0 1 0 13.8 0M866.9 523.5a6.9 6.9 0 1 0 -13.8 0a6.9 6.9 0 1 0 13.8 0M869.1 521.1a6.9 6.9 0 1 0 -13.8 0a6.9 6.9 0 1 0 13.8 0M871.3 519.8a6.9 6.9 0 1 0 -13.8 0a6.9 6.9 0 1 0 13.8 0M873.5 520.4a6.9 6.9 0 1 0 -13.8 0a6.9 6.9 0 1 0 13.8 0M875.7 523.8a6.9 6.9 0 1 0 -13.8 0a6.9 6.9 0 1 0 13.8 0M877.9 522.9a6.9 6.9 0 1 0 -13.8 0a6.9 6.9 0 1 0 13.8 0M880.0 522.9a6.9 6.9 0 1 0 -13.8 0a6.9 6.9 0 1 0 13.8 0M882.2 521.7a6.9 6.9 0 1 0 -13.8 0a6.9 6.9 0 1 0 13.8 0M884.4 521.5a6.9 6.9 0 1 0 -13.8 0a6.9 6.9 0 1 0 13.8 0M886.6 522.4a6.9 6.9 0 1 0 -13.8 0a6.9 6.9 0 1 0 13.8 0M888.8 518.2a6.9 6.9 0 1 0 -13.8 0a6.9 6.9 0 1 0 13.8 0M891.0 524.6a6.9 6.9 0 1 0 -13.8 0a6.9 6.9 0 1 0 13.8 0M893.2 521.2a6.9 6.9 0 1 0 -13.8 0a6.9 6.9 0 1 0 13.8 0M895.4 520.7a6.9 6.9 0 1 0 -13.8 0a6.9 6.9 0 1 0 13.8 0M897.6 524.8a6.9 6.9 0 1 0 -13.8 0a6.9 6.9 0 1 0 13.8 0M899.7 523.5a6.9 6.9 0 1 0 -13.8 0a6.9 6.9 0 1 0 13.8 0M901.9 522.8a6.9 6.9 0 1 0 -13.8 0a6.9 6.9 0 1 0 13.8 0M904.1 521.2a6.9 6.9 0 1 0 -13.8 0a6.9 6.9 0 1 0 13.8 0M906.3 518.6a6.9 6.9 0 1 0 -13.8 0a6.9 6.9 0 1 0 13.8 0M908.5 521.6a6.9 6.9 0 1 0 -13.8 0a6.9 6.9 0 1 0 13.8 0M910.7 524.8a6.9 6.9 0 1 0 -13.8 0a6.9 6.9 0 1 0 13.8 0M912.9 521.1a6.9 6.9 0 1 0 -13.8 0a6.9 6.9 0 1 0 13.8 0M915.1 525.0a6.9 6.9 0 1 0 -13.8 0a6.9 6.9 0 1 0 13.8 0M917.3 520.7a6.9 6.9 0 1 0 -13.8 0a6.9 6.9 0 1 0 13.8 0M919.5 520.2a6.9 6.9 0 1 0 -13.8 0a6.9 6.9 0 1 0 13.8 0M921.6 522.8a6.9 6.9 0 1 0 -13.8 0a6.9 6.9 0 1 0 13.8 0M923.8 522.4a6.9 6.9 0 1 0 -13.8 0a6.9 6.9 0 1 0 13.8 0M926.0 523.8a6.9 6.9 0 1 0 -13.8 0a6.9 6.9 0 1 0 13.8 0M928.2 521.1a6.9 6.9 0 1 0 -13.8 0a6.9 6.9 0 1 0 13.8 0M930.4 519.6a6.9 6.9 0 1 0 -13.8 0a6.9 6.9 0 1 0 13.8 0M932.6 517.3a6.9 6.9 0 1 0 -13.8 0a6.9 6.9 0 1 0 13.8 0M934.8 518.0a6.9 6.9 0 1 0 -13.8 0a6.9 6.9 0 1 0 13.8 0M937.0 518.5a6.9 6.9 0 1 0 -13.8 0a6.9 6.9 0 1 0 13.8 0M939.2 517.8a6.9 6.9 0 1 0 -13.8 0a6.9 6.9 0 1 0 13.8 0M941.4 521.4a6.9 6.9 0 1 0 -13.8 0a6.9 6.9 0 1 0 13.8 0M943.5 520.3a6.9 6.9 0 1 0 -13.8 0a6.9 6.9 0 1 0 13.8 0M945.7 517.1a6.9 6.9 0 1 0 -13.8 0a6.9 6.9 0 1 0 13.8 0M947.9 525.9a6.9 6.9 0 1 0 -13.8 0a6.9 6.9 0 1 0 13.8 0M950.1 521.2a6.9 6.9 0 1 0 -13.8 0a6.9 6.9 0 1 0 13.8 0M952.3 518.9a6.9 6.9 0 1 0 -13.8 0a6.9 6.9 0 1 0 13.8 0M954.5 523.6a6.9 6.9 0 1 0 -13.8 0a6.9 6.9 0 1 0 13.8 0M956.7 524.9a6.9 6.9 0 1 0 -13.8 0a6.9 6.9 0 1 0 13.8 0M958.9 520.2a6.9 6.9 0 1 0 -13.8 0a6.9 6.9 0 1 0 13.8 0M961.1 518.0a6.9 6.9 0 1 0 -13.8 0a6.9 6.9 0 1 0 13.8 0M963.3 518.4a6.9 6.9 0 1 0 -13.8 0a6.9 6.9 0 1 0 13.8 0M965.4 523.2a6.9 6.9 0 1 0 -13.8 0a6.9 6.9 0 1 0 13.8 0M967.6 521.5a6.9 6.9 0 1 0 -13.8 0a6.9 6.9 0 1 0 13.8 0M969.8 519.9a6.9 6.9 0 1 0 -13.8 0a6.9 6.9 0 1 0 13.8 0M972.0 521.1a6.9 6.9 0 1 0 -13.8 0a6.9 6.9 0 1 0 13.8 0" stroke="#008000" stroke-width="2.3" fill="none"/>
<path d="M96.2 491.6V505.3" stroke="#008000" stroke-width="1.8"/>
<text x="56.49" y="41.40" font-size="29.5" textLength="27.46" lengthAdjust="spacingAndGlyphs">10</text>
<text x="78.88" y="18.70" font-size="17" textLength="7.94" lengthAdjust="spacingAndGlyphs" class="e">5</text>
<text x="56.49" y="126.60" font-size="29.5" textLength="27.46" lengthAdjust="spacingAndGlyphs">10</text>
<text x="78.87" y="104.10" font-size="17" textLength="8.39" lengthAdjust="spacingAndGlyphs" class="e">4</text>
<text x="56.49" y="211.80" font-size="29.5" textLength="27.46" lengthAdjust="spacingAndGlyphs">10</text>
<text x="78.50" y="189.10" font-size="17" textLength="8.35" lengthAdjust="spacingAndGlyphs" class="e">3</text>
<text x="56.49" y="299.60" font-size="29.5" textLength="27.46" lengthAdjust="spacingAndGlyphs">10</text>
<text x="78.50" y="274.50" font-size="17" textLength="9.10" lengthAdjust="spacingAndGlyphs" class="e">2</text>
<text x="56.49" y="384.60" font-size="29.5" textLength="27.46" lengthAdjust="spacingAndGlyphs">10</text>
<text class="e" x="78.51" y="359.50" font-size="17">1</text>
<text x="56.49" y="470.00" font-size="29.5" textLength="27.46" lengthAdjust="spacingAndGlyphs">10</text>
<text x="79.04" y="444.90" font-size="17" textLength="8.61" lengthAdjust="spacingAndGlyphs" class="e">0</text>
<text x="56.49" y="555.20" font-size="29.5" textLength="27.46" lengthAdjust="spacingAndGlyphs">10</text>
<text x="78.88" y="532.50" font-size="17" textLength="11.66" lengthAdjust="spacingAndGlyphs" class="e">-1</text>
<text x="95.06" y="576.90" font-size="30" textLength="14.98" lengthAdjust="spacingAndGlyphs">0</text>
<text x="196.17" y="576.90" font-size="30" textLength="29.76" lengthAdjust="spacingAndGlyphs">50</text>
<text x="301.09" y="576.90" font-size="30" textLength="42.79" lengthAdjust="spacingAndGlyphs">100</text>
<text x="410.94" y="576.90" font-size="30" textLength="41.92" lengthAdjust="spacingAndGlyphs">150</text>
<text x="517.74" y="576.90" font-size="30" textLength="42.95" lengthAdjust="spacingAndGlyphs">200</text>
<text x="626.99" y="576.90" font-size="30" textLength="41.47" lengthAdjust="spacingAndGlyphs">250</text>
<text x="735.40" y="576.90" font-size="30" textLength="43.92" lengthAdjust="spacingAndGlyphs">300</text>
<text x="846.94" y="576.90" font-size="30" textLength="42.75" lengthAdjust="spacingAndGlyphs">350</text>
<text x="956.07" y="576.90" font-size="30" textLength="40.77" lengthAdjust="spacingAndGlyphs">400</text>
<text x="459.05" y="610.70" font-size="30" textLength="187.30" lengthAdjust="spacingAndGlyphs">frequency (Hz)</text>
<text transform="rotate(-90)" x="-424.05" y="31.00" font-size="30" textLength="223.25" lengthAdjust="spacingAndGlyphs">signal power (µV/</text>
<path d="M15.5 200.3L14.0 196.7L27.6 189.6L5.2 186.3V150.5" stroke="#000" stroke-width="1.7" fill="none" stroke-linejoin="miter"/>
<text transform="rotate(-90)" x="-184.87" y="31.00" font-size="30" textLength="45.30" lengthAdjust="spacingAndGlyphs">Hz)</text>
<rect x="618.7" y="50.3" width="331.7" height="166.1" fill="#fff" stroke="#000" stroke-width="1.8"/>
<path d="M633 73.6H714.8" stroke="#0000ff" stroke-width="1.7"/>
<path d="M665.8 73.6H681.8M673.8 65.6V81.6" stroke="#0000ff" stroke-width="1.8" fill="none"/>
<text x="722.45" y="87.00" font-size="28" textLength="178.50" lengthAdjust="spacingAndGlyphs">resistor no drive</text>
<path d="M633 113.8H714.8" stroke="#0000ff" stroke-width="1.7"/>
<path d="M666.0999999999999 113.8H681.5M673.8 106.1V121.5M669.5 109.5L678.0999999999999 118.1M669.5 118.1L678.0999999999999 109.5" stroke="#0000ff" stroke-width="1.6" fill="none"/>
<text x="721.51" y="126.00" font-size="28" textLength="136.47" lengthAdjust="spacingAndGlyphs">SV no drive</text>
<path d="M633 151.8H714.8" stroke="#ff0000" stroke-width="1.7"/>
<path d="M669.3 147.3L678.3 156.3M669.3 156.3L678.3 147.3" stroke="#ff0000" stroke-width="1.6" fill="none"/>
<text x="721.99" y="165.00" font-size="28" textLength="183.65" lengthAdjust="spacingAndGlyphs">SV electric drive</text>
<path d="M633 191.4H714.8" stroke="#008000" stroke-width="1.7"/>
<circle cx="673.8" cy="191.4" r="7" stroke="#008000" stroke-width="1.7" fill="none"/>
<text x="721.98" y="204.60" font-size="28" textLength="204.06" lengthAdjust="spacingAndGlyphs">SV magnetic drive</text>
<rect x="588" y="462" width="358.2" height="36.9" fill="#fff" stroke="#000" stroke-width="1.8"/>
<text x="626.78" y="490.70" font-size="28" textLength="66.20" lengthAdjust="spacingAndGlyphs">Noise</text>
<text x="699.70" y="490.70" font-size="28" textLength="57.91" lengthAdjust="spacingAndGlyphs">floor:</text>
<text x="766.66" y="490.70" font-size="28" textLength="41.70" lengthAdjust="spacingAndGlyphs">150</text>
<text x="812.65" y="490.70" font-size="28" textLength="42.75" lengthAdjust="spacingAndGlyphs">nV/</text>
<path d="M856.4 479.4L860.3 477.1L867.2 491.0L871.1 469.1H906.6" stroke="#000" stroke-width="1.7" fill="none" stroke-linejoin="miter"/>
<text x="875.48" y="490.70" font-size="28" textLength="33.00" lengthAdjust="spacingAndGlyphs">Hz</text>
</svg></body></html>
